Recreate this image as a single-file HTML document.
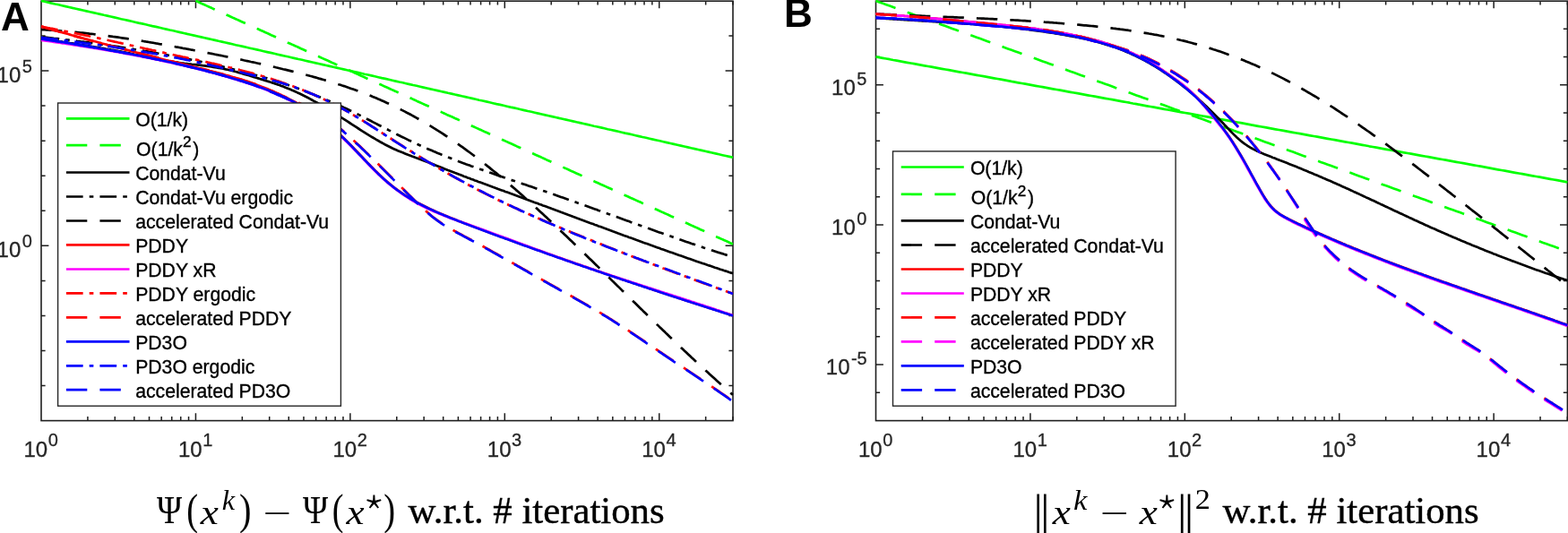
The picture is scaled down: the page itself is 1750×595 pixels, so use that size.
<!DOCTYPE html>
<html><head><meta charset="utf-8"><title>Convergence plots</title>
<style>
html,body{margin:0;padding:0;background:#fff;}
body{width:1750px;height:595px;overflow:hidden;}
svg{display:block;}
text{font-family:"Liberation Sans",Arial,Helvetica,sans-serif;fill:#262626;}
.t{font-size:24px;stroke:#262626;stroke-width:0.3px;}
.e{font-size:20px;}
.l{font-size:21.2px;fill:#000;stroke:#000;stroke-width:0.35px;}
.ls{font-size:17.2px;}
.p{font-size:44px;font-weight:bold;fill:#000;}
.gr,.gi,.gd{font-size:100px;fill:#000;}
.gr{font-family:"Liberation Serif","Times New Roman",serif;}
.gi{font-family:"Liberation Serif","Times New Roman",serif;font-style:italic;}
.gd{font-family:"DejaVu Math TeX Gyre","DejaVu Sans",sans-serif;}
.x{font-family:"Liberation Serif","Times New Roman",serif;font-size:42.8px;fill:#000;stroke:#000;stroke-width:0.4px;}
.i{font-style:italic;}
.s{font-size:29px;}
</style></head>
<body>
<svg width="1750" height="595" viewBox="0 0 1750 595">
<defs>
<clipPath id="c1"><rect x="45.3" y="-0.050000000000000044" width="773.4" height="470.35"/></clipPath>
<clipPath id="c2"><rect x="976.8" y="-0.050000000000000044" width="773.3000000000001" height="470.35"/></clipPath>
</defs>
<rect width="1750" height="595" fill="#fff"/>
<path d="M97.91,469.6v-4.6M97.91,0.95v4.6M128.27,469.6v-4.6M128.27,0.95v4.6M149.81,469.6v-4.6M149.81,0.95v4.6M166.52,469.6v-4.6M166.52,0.95v4.6M180.18,469.6v-4.6M180.18,0.95v4.6M191.72,469.6v-4.6M191.72,0.95v4.6M201.72,469.6v-4.6M201.72,0.95v4.6M210.54,469.6v-4.6M210.54,0.95v4.6M218.43,469.6v-8.4M218.43,0.95v8.4M270.34,469.6v-4.6M270.34,0.95v4.6M300.70,469.6v-4.6M300.70,0.95v4.6M322.25,469.6v-4.6M322.25,0.95v4.6M338.96,469.6v-4.6M338.96,0.95v4.6M352.61,469.6v-4.6M352.61,0.95v4.6M364.15,469.6v-4.6M364.15,0.95v4.6M374.15,469.6v-4.6M374.15,0.95v4.6M382.97,469.6v-4.6M382.97,0.95v4.6M390.86,469.6v-8.4M390.86,0.95v8.4M442.77,469.6v-4.6M442.77,0.95v4.6M473.14,469.6v-4.6M473.14,0.95v4.6M494.68,469.6v-4.6M494.68,0.95v4.6M511.39,469.6v-4.6M511.39,0.95v4.6M525.04,469.6v-4.6M525.04,0.95v4.6M536.59,469.6v-4.6M536.59,0.95v4.6M546.59,469.6v-4.6M546.59,0.95v4.6M555.41,469.6v-4.6M555.41,0.95v4.6M563.30,469.6v-8.4M563.30,0.95v8.4M615.20,469.6v-4.6M615.20,0.95v4.6M645.57,469.6v-4.6M645.57,0.95v4.6M667.11,469.6v-4.6M667.11,0.95v4.6M683.82,469.6v-4.6M683.82,0.95v4.6M697.48,469.6v-4.6M697.48,0.95v4.6M709.02,469.6v-4.6M709.02,0.95v4.6M719.02,469.6v-4.6M719.02,0.95v4.6M727.84,469.6v-4.6M727.84,0.95v4.6M735.73,469.6v-8.4M735.73,0.95v8.4M787.64,469.6v-4.6M787.64,0.95v4.6M818.00,469.6v-4.6M818.00,0.95v4.6M46.0,430.55h4.6M818.0,430.55h-4.6M46.0,391.49h4.6M818.0,391.49h-4.6M46.0,352.44h4.6M818.0,352.44h-4.6M46.0,313.38h4.6M818.0,313.38h-4.6M46.0,274.33h8.4M818.0,274.33h-8.4M46.0,235.27h4.6M818.0,235.27h-4.6M46.0,196.22h4.6M818.0,196.22h-4.6M46.0,157.17h4.6M818.0,157.17h-4.6M46.0,118.11h4.6M818.0,118.11h-4.6M46.0,79.06h8.4M818.0,79.06h-8.4M46.0,40.00h4.6M818.0,40.00h-4.6" stroke="#1e1e1e" stroke-width="1.5" fill="none"/>
<rect x="46.0" y="1.2" width="772.0" height="468.40000000000003" fill="none" stroke="#1e1e1e" stroke-width="1.6"/>
<g clip-path="url(#c1)">
<path d="M46.0,0.9 L49.9,1.8 L53.8,2.7 L57.6,3.6 L61.5,4.5 L65.4,5.3 L69.3,6.2 L73.2,7.1 L77.0,8.0 L80.9,8.9 L84.8,9.7 L88.7,10.6 L92.6,11.5 L96.4,12.4 L100.3,13.3 L104.2,14.1 L108.1,15.0 L111.9,15.9 L115.8,16.8 L119.7,17.6 L123.6,18.5 L127.5,19.4 L131.3,20.3 L135.2,21.2 L139.1,22.0 L143.0,22.9 L146.9,23.8 L150.7,24.7 L154.6,25.6 L158.5,26.4 L162.4,27.3 L166.3,28.2 L170.1,29.1 L174.0,29.9 L177.9,30.8 L181.8,31.7 L185.7,32.6 L189.5,33.5 L193.4,34.3 L197.3,35.2 L201.2,36.1 L205.1,37.0 L208.9,37.9 L212.8,38.7 L216.7,39.6 L220.6,40.5 L224.5,41.4 L228.3,42.2 L232.2,43.1 L236.1,44.0 L240.0,44.9 L243.8,45.8 L247.7,46.6 L251.6,47.5 L255.5,48.4 L259.4,49.3 L263.2,50.2 L267.1,51.0 L271.0,51.9 L274.9,52.8 L278.8,53.7 L282.6,54.5 L286.5,55.4 L290.4,56.3 L294.3,57.2 L298.2,58.1 L302.0,58.9 L305.9,59.8 L309.8,60.7 L313.7,61.6 L317.6,62.5 L321.4,63.3 L325.3,64.2 L329.2,65.1 L333.1,66.0 L337.0,66.8 L340.8,67.7 L344.7,68.6 L348.6,69.5 L352.5,70.4 L356.4,71.2 L360.2,72.1 L364.1,73.0 L368.0,73.9 L371.9,74.8 L375.7,75.6 L379.6,76.5 L383.5,77.4 L387.4,78.3 L391.3,79.1 L395.1,80.0 L399.0,80.9 L402.9,81.8 L406.8,82.7 L410.7,83.5 L414.5,84.4 L418.4,85.3 L422.3,86.2 L426.2,87.1 L430.1,87.9 L433.9,88.8 L437.8,89.7 L441.7,90.6 L445.6,91.5 L449.5,92.3 L453.3,93.2 L457.2,94.1 L461.1,95.0 L465.0,95.8 L468.9,96.7 L472.7,97.6 L476.6,98.5 L480.5,99.4 L484.4,100.2 L488.3,101.1 L492.1,102.0 L496.0,102.9 L499.9,103.8 L503.8,104.6 L507.6,105.5 L511.5,106.4 L515.4,107.3 L519.3,108.1 L523.2,109.0 L527.0,109.9 L530.9,110.8 L534.8,111.7 L538.7,112.5 L542.6,113.4 L546.4,114.3 L550.3,115.2 L554.2,116.1 L558.1,116.9 L562.0,117.8 L565.8,118.7 L569.7,119.6 L573.6,120.4 L577.5,121.3 L581.4,122.2 L585.2,123.1 L589.1,124.0 L593.0,124.8 L596.9,125.7 L600.8,126.6 L604.6,127.5 L608.5,128.4 L612.4,129.2 L616.3,130.1 L620.2,131.0 L624.0,131.9 L627.9,132.7 L631.8,133.6 L635.7,134.5 L639.5,135.4 L643.4,136.3 L647.3,137.1 L651.2,138.0 L655.1,138.9 L658.9,139.8 L662.8,140.7 L666.7,141.5 L670.6,142.4 L674.5,143.3 L678.3,144.2 L682.2,145.0 L686.1,145.9 L690.0,146.8 L693.9,147.7 L697.7,148.6 L701.6,149.4 L705.5,150.3 L709.4,151.2 L713.3,152.1 L717.1,153.0 L721.0,153.8 L724.9,154.7 L728.8,155.6 L732.7,156.5 L736.5,157.3 L740.4,158.2 L744.3,159.1 L748.2,160.0 L752.1,160.9 L755.9,161.7 L759.8,162.6 L763.7,163.5 L767.6,164.4 L771.4,165.3 L775.3,166.1 L779.2,167.0 L783.1,167.9 L787.0,168.8 L790.8,169.6 L794.7,170.5 L798.6,171.4 L802.5,172.3 L806.4,173.2 L810.2,174.0 L814.1,174.9 L818.0,175.8" fill="none" stroke="#00ff00" stroke-width="2.7" stroke-linejoin="round"/>
<path d="M218.4,0.9 L221.4,2.3 L224.5,3.7 L227.5,5.0 L230.5,6.4 L233.5,7.8 L236.5,9.1 L239.5,10.5 L242.5,11.9 L245.5,13.2 L248.6,14.6 L251.6,16.0 L254.6,17.3 L257.6,18.7 L260.6,20.1 L263.6,21.4 L266.6,22.8 L269.7,24.2 L272.7,25.5 L275.7,26.9 L278.7,28.2 L281.7,29.6 L284.7,31.0 L287.7,32.3 L290.7,33.7 L293.8,35.1 L296.8,36.4 L299.8,37.8 L302.8,39.2 L305.8,40.5 L308.8,41.9 L311.8,43.3 L314.8,44.6 L317.9,46.0 L320.9,47.4 L323.9,48.7 L326.9,50.1 L329.9,51.4 L332.9,52.8 L335.9,54.2 L338.9,55.5 L342.0,56.9 L345.0,58.3 L348.0,59.6 L351.0,61.0 L354.0,62.4 L357.0,63.7 L360.0,65.1 L363.1,66.5 L366.1,67.8 L369.1,69.2 L372.1,70.6 L375.1,71.9 L378.1,73.3 L381.1,74.6 L384.1,76.0 L387.2,77.4 L390.2,78.7 L393.2,80.1 L396.2,81.5 L399.2,82.8 L402.2,84.2 L405.2,85.6 L408.2,86.9 L411.3,88.3 L414.3,89.7 L417.3,91.0 L420.3,92.4 L423.3,93.8 L426.3,95.1 L429.3,96.5 L432.3,97.8 L435.4,99.2 L438.4,100.6 L441.4,101.9 L444.4,103.3 L447.4,104.7 L450.4,106.0 L453.4,107.4 L456.5,108.8 L459.5,110.1 L462.5,111.5 L465.5,112.9 L468.5,114.2 L471.5,115.6 L474.5,117.0 L477.5,118.3 L480.6,119.7 L483.6,121.1 L486.6,122.4 L489.6,123.8 L492.6,125.1 L495.6,126.5 L498.6,127.9 L501.6,129.2 L504.7,130.6 L507.7,132.0 L510.7,133.3 L513.7,134.7 L516.7,136.1 L519.7,137.4 L522.7,138.8 L525.7,140.2 L528.8,141.5 L531.8,142.9 L534.8,144.3 L537.8,145.6 L540.8,147.0 L543.8,148.3 L546.8,149.7 L549.9,151.1 L552.9,152.4 L555.9,153.8 L558.9,155.2 L561.9,156.5 L564.9,157.9 L567.9,159.3 L570.9,160.6 L574.0,162.0 L577.0,163.4 L580.0,164.7 L583.0,166.1 L586.0,167.5 L589.0,168.8 L592.0,170.2 L595.0,171.5 L598.1,172.9 L601.1,174.3 L604.1,175.6 L607.1,177.0 L610.1,178.4 L613.1,179.7 L616.1,181.1 L619.1,182.5 L622.2,183.8 L625.2,185.2 L628.2,186.6 L631.2,187.9 L634.2,189.3 L637.2,190.7 L640.2,192.0 L643.3,193.4 L646.3,194.7 L649.3,196.1 L652.3,197.5 L655.3,198.8 L658.3,200.2 L661.3,201.6 L664.3,202.9 L667.4,204.3 L670.4,205.7 L673.4,207.0 L676.4,208.4 L679.4,209.8 L682.4,211.1 L685.4,212.5 L688.4,213.9 L691.5,215.2 L694.5,216.6 L697.5,218.0 L700.5,219.3 L703.5,220.7 L706.5,222.0 L709.5,223.4 L712.5,224.8 L715.6,226.1 L718.6,227.5 L721.6,228.9 L724.6,230.2 L727.6,231.6 L730.6,233.0 L733.6,234.3 L736.7,235.7 L739.7,237.1 L742.7,238.4 L745.7,239.8 L748.7,241.2 L751.7,242.5 L754.7,243.9 L757.7,245.2 L760.8,246.6 L763.8,248.0 L766.8,249.3 L769.8,250.7 L772.8,252.1 L775.8,253.4 L778.8,254.8 L781.8,256.2 L784.9,257.5 L787.9,258.9 L790.9,260.3 L793.9,261.6 L796.9,263.0 L799.9,264.4 L802.9,265.7 L805.9,267.1 L809.0,268.4 L812.0,269.8 L815.0,271.2 L818.0,272.5" fill="none" stroke="#00ff00" stroke-width="2.7" stroke-linejoin="round" stroke-dasharray="23.4 14.1"/>
<path d="M46.0,42.4 L48.0,42.8 L50.0,43.2 L52.0,43.6 L54.0,43.9 L56.0,44.3 L58.0,44.7 L60.0,45.0 L62.0,45.4 L64.0,45.7 L66.0,46.1 L68.0,46.4 L70.0,46.8 L72.0,47.1 L74.0,47.4 L76.0,47.7 L78.0,48.1 L80.0,48.4 L82.0,48.7 L84.0,49.0 L86.0,49.3 L88.0,49.6 L90.0,50.0 L92.0,50.3 L94.0,50.6 L96.0,50.9 L98.0,51.2 L100.0,51.5 L102.0,51.8 L104.0,52.2 L106.0,52.5 L108.0,52.8 L110.0,53.1 L112.0,53.5 L114.0,53.8 L116.0,54.1 L118.0,54.5 L120.0,54.8 L122.0,55.2 L124.0,55.6 L126.0,55.9 L128.0,56.3 L130.0,56.7 L132.0,57.0 L134.0,57.4 L136.0,57.8 L138.0,58.2 L140.0,58.6 L142.0,59.0 L144.0,59.4 L146.0,59.8 L148.0,60.2 L150.0,60.7 L152.0,61.1 L154.0,61.5 L156.0,61.9 L158.0,62.3 L160.0,62.7 L162.0,63.1 L164.0,63.5 L166.0,64.0 L168.0,64.4 L170.0,64.8 L172.0,65.2 L174.0,65.5 L176.0,65.9 L178.0,66.3 L180.0,66.7 L182.0,67.1 L184.0,67.4 L186.0,67.8 L188.0,68.1 L190.0,68.5 L192.0,68.8 L194.0,69.1 L196.0,69.4 L198.0,69.7 L200.0,70.0 L202.0,70.3 L204.0,70.5 L206.0,70.8 L208.0,71.0 L210.0,71.3 L212.0,71.5 L214.0,71.8 L216.0,72.0 L218.0,72.2 L220.0,72.5 L222.0,72.7 L224.0,72.9 L226.0,73.2 L228.0,73.4 L230.0,73.7 L232.0,74.0 L234.0,74.2 L236.0,74.5 L238.0,74.8 L240.0,75.1 L242.0,75.5 L244.0,75.8 L246.0,76.2 L248.0,76.5 L250.0,76.9 L252.0,77.4 L254.0,77.8 L256.0,78.3 L258.0,78.8 L260.0,79.3 L262.0,79.8 L264.0,80.3 L266.0,80.9 L268.0,81.4 L270.0,82.0 L272.0,82.6 L274.0,83.1 L276.0,83.7 L278.0,84.3 L280.0,84.9 L282.0,85.6 L284.0,86.2 L286.0,86.8 L288.0,87.4 L290.0,88.0 L292.0,88.6 L294.0,89.2 L296.0,89.9 L298.0,90.5 L300.0,91.1 L302.0,91.8 L304.0,92.4 L306.0,93.1 L308.0,93.7 L310.0,94.4 L312.0,95.1 L314.0,95.9 L316.0,96.6 L318.0,97.4 L320.0,98.2 L322.0,99.0 L324.0,99.8 L326.0,100.7 L328.0,101.5 L330.0,102.4 L332.0,103.4 L334.0,104.3 L336.0,105.3 L338.0,106.3 L340.0,107.3 L342.0,108.3 L344.0,109.3 L346.0,110.4 L348.0,111.5 L350.0,112.6 L352.0,113.7 L354.0,114.8 L356.0,115.9 L358.0,117.1 L360.0,118.3 L362.0,119.4 L364.0,120.6 L366.0,121.8 L368.0,123.1 L370.0,124.3 L372.0,125.5 L374.0,126.8 L376.0,128.0 L378.0,129.3 L380.0,130.6 L382.0,131.9 L384.0,133.1 L386.0,134.4 L388.0,135.7 L390.0,137.0 L392.0,138.3 L394.0,139.6 L396.0,140.9 L398.0,142.2 L400.0,143.5 L402.0,144.8 L404.0,146.1 L406.0,147.3 L408.0,148.6 L410.0,149.9 L412.0,151.1 L414.0,152.3 L416.0,153.5 L418.0,154.7 L420.0,155.9 L422.0,157.0 L424.0,158.2 L426.0,159.3 L428.0,160.4 L430.0,161.5 L432.0,162.5 L434.0,163.5 L436.0,164.5 L438.0,165.5 L440.0,166.4 L442.0,167.3 L444.0,168.2 L446.0,169.0 L448.0,169.8 L450.0,170.6 L452.0,171.4 L454.0,172.2 L456.0,173.0 L458.0,173.7 L460.0,174.5 L462.0,175.2 L464.0,176.0 L466.0,176.7 L468.0,177.4 L470.0,178.2 L472.0,178.9 L474.0,179.7 L476.0,180.5 L478.0,181.3 L480.0,182.0 L482.0,182.8 L484.0,183.6 L486.0,184.4 L488.0,185.2 L490.0,186.0 L492.0,186.8 L494.0,187.6 L496.0,188.4 L498.0,189.2 L500.0,190.0 L502.0,190.7 L504.0,191.5 L506.0,192.3 L508.0,193.1 L510.0,193.8 L512.0,194.6 L514.0,195.3 L516.0,196.1 L518.0,196.9 L520.0,197.6 L522.0,198.4 L524.0,199.1 L526.0,199.9 L528.0,200.6 L530.0,201.4 L532.0,202.1 L534.0,202.9 L536.0,203.6 L538.0,204.3 L540.0,205.1 L542.0,205.8 L544.0,206.5 L546.0,207.3 L548.0,208.0 L550.0,208.8 L552.0,209.5 L554.0,210.2 L556.0,211.0 L558.0,211.7 L560.0,212.4 L562.0,213.1 L564.0,213.9 L566.0,214.6 L568.0,215.3 L570.0,216.1 L572.0,216.8 L574.0,217.5 L576.0,218.3 L578.0,219.0 L580.0,219.8 L582.0,220.5 L584.0,221.2 L586.0,222.0 L588.0,222.7 L590.0,223.4 L592.0,224.2 L594.0,224.9 L596.0,225.7 L598.0,226.4 L600.0,227.1 L602.0,227.9 L604.0,228.6 L606.0,229.4 L608.0,230.1 L610.0,230.8 L612.0,231.6 L614.0,232.3 L616.0,233.1 L618.0,233.8 L620.0,234.6 L622.0,235.3 L624.0,236.0 L626.0,236.8 L628.0,237.5 L630.0,238.3 L632.0,239.0 L634.0,239.8 L636.0,240.5 L638.0,241.2 L640.0,242.0 L642.0,242.7 L644.0,243.5 L646.0,244.2 L648.0,245.0 L650.0,245.7 L652.0,246.4 L654.0,247.2 L656.0,247.9 L658.0,248.7 L660.0,249.4 L662.0,250.1 L664.0,250.9 L666.0,251.6 L668.0,252.4 L670.0,253.1 L672.0,253.8 L674.0,254.6 L676.0,255.3 L678.0,256.1 L680.0,256.8 L682.0,257.5 L684.0,258.3 L686.0,259.0 L688.0,259.7 L690.0,260.5 L692.0,261.2 L694.0,261.9 L696.0,262.7 L698.0,263.4 L700.0,264.1 L702.0,264.9 L704.0,265.6 L706.0,266.3 L708.0,267.0 L710.0,267.8 L712.0,268.5 L714.0,269.2 L716.0,269.9 L718.0,270.7 L720.0,271.4 L722.0,272.1 L724.0,272.8 L726.0,273.6 L728.0,274.3 L730.0,275.0 L732.0,275.7 L734.0,276.4 L736.0,277.1 L738.0,277.9 L740.0,278.6 L742.0,279.3 L744.0,280.0 L746.0,280.7 L748.0,281.4 L750.0,282.1 L752.0,282.8 L754.0,283.5 L756.0,284.2 L758.0,284.9 L760.0,285.6 L762.0,286.3 L764.0,287.0 L766.0,287.7 L768.0,288.4 L770.0,289.1 L772.0,289.8 L774.0,290.5 L776.0,291.2 L778.0,291.9 L780.0,292.6 L782.0,293.2 L784.0,293.9 L786.0,294.6 L788.0,295.3 L790.0,296.0 L792.0,296.6 L794.0,297.3 L796.0,298.0 L798.0,298.7 L800.0,299.3 L802.0,300.0 L804.0,300.7 L806.0,301.3 L808.0,302.0 L810.0,302.6 L812.0,303.3 L814.0,304.0 L816.0,304.6 L818.0,305.3" fill="none" stroke="#000000" stroke-width="2.7" stroke-linejoin="round"/>
<path d="M46.0,41.2 L48.0,41.5 L50.0,41.7 L52.0,41.9 L54.0,42.1 L56.0,42.3 L58.0,42.5 L60.0,42.8 L62.0,43.0 L64.0,43.2 L66.0,43.4 L68.0,43.7 L70.0,43.9 L72.0,44.1 L74.0,44.4 L76.0,44.6 L78.0,44.9 L80.0,45.1 L82.0,45.4 L84.0,45.6 L86.0,45.9 L88.0,46.1 L90.0,46.4 L92.0,46.6 L94.0,46.9 L96.0,47.1 L98.0,47.4 L100.0,47.7 L102.0,47.9 L104.0,48.2 L106.0,48.5 L108.0,48.7 L110.0,49.0 L112.0,49.3 L114.0,49.6 L116.0,49.9 L118.0,50.2 L120.0,50.4 L122.0,50.7 L124.0,51.0 L126.0,51.3 L128.0,51.6 L130.0,51.9 L132.0,52.2 L134.0,52.5 L136.0,52.8 L138.0,53.1 L140.0,53.5 L142.0,53.8 L144.0,54.1 L146.0,54.4 L148.0,54.7 L150.0,55.1 L152.0,55.4 L154.0,55.7 L156.0,56.0 L158.0,56.4 L160.0,56.7 L162.0,57.1 L164.0,57.4 L166.0,57.7 L168.0,58.1 L170.0,58.4 L172.0,58.8 L174.0,59.2 L176.0,59.5 L178.0,59.9 L180.0,60.2 L182.0,60.6 L184.0,61.0 L186.0,61.3 L188.0,61.7 L190.0,62.1 L192.0,62.5 L194.0,62.9 L196.0,63.2 L198.0,63.6 L200.0,64.0 L202.0,64.4 L204.0,64.8 L206.0,65.2 L208.0,65.6 L210.0,66.0 L212.0,66.4 L214.0,66.8 L216.0,67.3 L218.0,67.7 L220.0,68.1 L222.0,68.5 L224.0,68.9 L226.0,69.4 L228.0,69.8 L230.0,70.2 L232.0,70.7 L234.0,71.1 L236.0,71.6 L238.0,72.0 L240.0,72.5 L242.0,72.9 L244.0,73.4 L246.0,73.9 L248.0,74.3 L250.0,74.8 L252.0,75.3 L254.0,75.8 L256.0,76.3 L258.0,76.7 L260.0,77.2 L262.0,77.7 L264.0,78.2 L266.0,78.7 L268.0,79.2 L270.0,79.8 L272.0,80.3 L274.0,80.8 L276.0,81.3 L278.0,81.8 L280.0,82.4 L282.0,82.9 L284.0,83.5 L286.0,84.0 L288.0,84.6 L290.0,85.1 L292.0,85.7 L294.0,86.3 L296.0,86.9 L298.0,87.4 L300.0,88.0 L302.0,88.6 L304.0,89.2 L306.0,89.9 L308.0,90.5 L310.0,91.1 L312.0,91.8 L314.0,92.4 L316.0,93.1 L318.0,93.7 L320.0,94.4 L322.0,95.1 L324.0,95.8 L326.0,96.5 L328.0,97.2 L330.0,97.9 L332.0,98.6 L334.0,99.3 L336.0,100.1 L338.0,100.9 L340.0,101.6 L342.0,102.4 L344.0,103.2 L346.0,104.0 L348.0,104.8 L350.0,105.6 L352.0,106.4 L354.0,107.2 L356.0,108.0 L358.0,108.8 L360.0,109.6 L362.0,110.5 L364.0,111.3 L366.0,112.2 L368.0,113.0 L370.0,113.9 L372.0,114.7 L374.0,115.6 L376.0,116.5 L378.0,117.4 L380.0,118.3 L382.0,119.2 L384.0,120.2 L386.0,121.1 L388.0,122.0 L390.0,123.0 L392.0,124.0 L394.0,124.9 L396.0,125.9 L398.0,126.9 L400.0,127.9 L402.0,128.9 L404.0,129.9 L406.0,130.9 L408.0,132.0 L410.0,133.0 L412.0,134.0 L414.0,135.0 L416.0,136.1 L418.0,137.1 L420.0,138.1 L422.0,139.2 L424.0,140.2 L426.0,141.2 L428.0,142.3 L430.0,143.3 L432.0,144.3 L434.0,145.4 L436.0,146.4 L438.0,147.4 L440.0,148.4 L442.0,149.4 L444.0,150.5 L446.0,151.5 L448.0,152.5 L450.0,153.4 L452.0,154.4 L454.0,155.4 L456.0,156.4 L458.0,157.3 L460.0,158.3 L462.0,159.2 L464.0,160.2 L466.0,161.1 L468.0,162.0 L470.0,162.9 L472.0,163.8 L474.0,164.7 L476.0,165.6 L478.0,166.4 L480.0,167.3 L482.0,168.1 L484.0,169.0 L486.0,169.8 L488.0,170.7 L490.0,171.5 L492.0,172.3 L494.0,173.1 L496.0,173.9 L498.0,174.7 L500.0,175.5 L502.0,176.3 L504.0,177.1 L506.0,177.9 L508.0,178.6 L510.0,179.4 L512.0,180.2 L514.0,180.9 L516.0,181.7 L518.0,182.4 L520.0,183.2 L522.0,183.9 L524.0,184.6 L526.0,185.4 L528.0,186.1 L530.0,186.8 L532.0,187.5 L534.0,188.2 L536.0,188.9 L538.0,189.6 L540.0,190.3 L542.0,191.1 L544.0,191.7 L546.0,192.4 L548.0,193.1 L550.0,193.8 L552.0,194.5 L554.0,195.2 L556.0,195.9 L558.0,196.6 L560.0,197.3 L562.0,197.9 L564.0,198.6 L566.0,199.3 L568.0,200.0 L570.0,200.7 L572.0,201.4 L574.0,202.0 L576.0,202.7 L578.0,203.4 L580.0,204.1 L582.0,204.7 L584.0,205.4 L586.0,206.1 L588.0,206.8 L590.0,207.5 L592.0,208.1 L594.0,208.8 L596.0,209.5 L598.0,210.2 L600.0,210.9 L602.0,211.5 L604.0,212.2 L606.0,212.9 L608.0,213.6 L610.0,214.3 L612.0,215.0 L614.0,215.7 L616.0,216.4 L618.0,217.1 L620.0,217.8 L622.0,218.5 L624.0,219.2 L626.0,219.9 L628.0,220.6 L630.0,221.3 L632.0,222.0 L634.0,222.7 L636.0,223.4 L638.0,224.1 L640.0,224.8 L642.0,225.5 L644.0,226.3 L646.0,227.0 L648.0,227.7 L650.0,228.4 L652.0,229.1 L654.0,229.8 L656.0,230.5 L658.0,231.3 L660.0,232.0 L662.0,232.7 L664.0,233.4 L666.0,234.1 L668.0,234.9 L670.0,235.6 L672.0,236.3 L674.0,237.0 L676.0,237.7 L678.0,238.5 L680.0,239.2 L682.0,239.9 L684.0,240.6 L686.0,241.4 L688.0,242.1 L690.0,242.8 L692.0,243.5 L694.0,244.2 L696.0,245.0 L698.0,245.7 L700.0,246.4 L702.0,247.1 L704.0,247.9 L706.0,248.6 L708.0,249.3 L710.0,250.0 L712.0,250.8 L714.0,251.5 L716.0,252.2 L718.0,252.9 L720.0,253.6 L722.0,254.4 L724.0,255.1 L726.0,255.8 L728.0,256.5 L730.0,257.2 L732.0,257.9 L734.0,258.7 L736.0,259.4 L738.0,260.1 L740.0,260.8 L742.0,261.5 L744.0,262.2 L746.0,262.9 L748.0,263.6 L750.0,264.3 L752.0,265.0 L754.0,265.7 L756.0,266.4 L758.0,267.1 L760.0,267.8 L762.0,268.5 L764.0,269.2 L766.0,269.9 L768.0,270.6 L770.0,271.3 L772.0,272.0 L774.0,272.6 L776.0,273.3 L778.0,274.0 L780.0,274.7 L782.0,275.3 L784.0,276.0 L786.0,276.7 L788.0,277.3 L790.0,278.0 L792.0,278.6 L794.0,279.3 L796.0,279.9 L798.0,280.6 L800.0,281.2 L802.0,281.9 L804.0,282.5 L806.0,283.1 L808.0,283.8 L810.0,284.4 L812.0,285.0 L814.0,285.7 L816.0,286.3 L818.0,286.9" fill="none" stroke="#000000" stroke-width="2.7" stroke-linejoin="round" stroke-dasharray="18.75 7.05 4.65 7.05" stroke-dashoffset="-1.50"/>
<path d="M46.0,33.0 L48.0,33.1 L50.0,33.2 L52.0,33.3 L54.0,33.5 L56.0,33.6 L58.0,33.7 L60.0,33.9 L62.0,34.0 L64.0,34.2 L66.0,34.3 L68.0,34.5 L70.0,34.6 L72.0,34.8 L74.0,35.0 L76.0,35.1 L78.0,35.3 L80.0,35.5 L82.0,35.7 L84.0,35.9 L86.0,36.1 L88.0,36.3 L90.0,36.5 L92.0,36.7 L94.0,36.9 L96.0,37.1 L98.0,37.3 L100.0,37.6 L102.0,37.8 L104.0,38.0 L106.0,38.3 L108.0,38.5 L110.0,38.8 L112.0,39.0 L114.0,39.3 L116.0,39.5 L118.0,39.8 L120.0,40.0 L122.0,40.3 L124.0,40.6 L126.0,40.9 L128.0,41.1 L130.0,41.4 L132.0,41.7 L134.0,42.0 L136.0,42.3 L138.0,42.6 L140.0,42.9 L142.0,43.2 L144.0,43.5 L146.0,43.8 L148.0,44.1 L150.0,44.4 L152.0,44.7 L154.0,45.0 L156.0,45.4 L158.0,45.7 L160.0,46.0 L162.0,46.3 L164.0,46.7 L166.0,47.0 L168.0,47.3 L170.0,47.7 L172.0,48.0 L174.0,48.4 L176.0,48.7 L178.0,49.1 L180.0,49.4 L182.0,49.8 L184.0,50.1 L186.0,50.5 L188.0,50.8 L190.0,51.2 L192.0,51.5 L194.0,51.9 L196.0,52.3 L198.0,52.6 L200.0,53.0 L202.0,53.4 L204.0,53.8 L206.0,54.1 L208.0,54.5 L210.0,54.9 L212.0,55.3 L214.0,55.7 L216.0,56.0 L218.0,56.4 L220.0,56.8 L222.0,57.2 L224.0,57.6 L226.0,58.0 L228.0,58.4 L230.0,58.7 L232.0,59.1 L234.0,59.5 L236.0,59.9 L238.0,60.3 L240.0,60.7 L242.0,61.1 L244.0,61.5 L246.0,61.9 L248.0,62.3 L250.0,62.7 L252.0,63.1 L254.0,63.5 L256.0,63.9 L258.0,64.3 L260.0,64.7 L262.0,65.2 L264.0,65.6 L266.0,66.0 L268.0,66.4 L270.0,66.8 L272.0,67.3 L274.0,67.7 L276.0,68.1 L278.0,68.5 L280.0,69.0 L282.0,69.4 L284.0,69.8 L286.0,70.3 L288.0,70.7 L290.0,71.1 L292.0,71.6 L294.0,72.0 L296.0,72.5 L298.0,72.9 L300.0,73.4 L302.0,73.9 L304.0,74.3 L306.0,74.8 L308.0,75.3 L310.0,75.7 L312.0,76.2 L314.0,76.7 L316.0,77.2 L318.0,77.6 L320.0,78.1 L322.0,78.6 L324.0,79.1 L326.0,79.6 L328.0,80.1 L330.0,80.6 L332.0,81.1 L334.0,81.6 L336.0,82.1 L338.0,82.7 L340.0,83.2 L342.0,83.7 L344.0,84.2 L346.0,84.8 L348.0,85.3 L350.0,85.9 L352.0,86.4 L354.0,87.0 L356.0,87.6 L358.0,88.1 L360.0,88.7 L362.0,89.3 L364.0,89.9 L366.0,90.5 L368.0,91.1 L370.0,91.7 L372.0,92.3 L374.0,92.9 L376.0,93.5 L378.0,94.2 L380.0,94.8 L382.0,95.5 L384.0,96.1 L386.0,96.8 L388.0,97.5 L390.0,98.2 L392.0,98.9 L394.0,99.6 L396.0,100.3 L398.0,101.0 L400.0,101.7 L402.0,102.5 L404.0,103.2 L406.0,104.0 L408.0,104.8 L410.0,105.5 L412.0,106.3 L414.0,107.1 L416.0,108.0 L418.0,108.8 L420.0,109.6 L422.0,110.5 L424.0,111.3 L426.0,112.2 L428.0,113.1 L430.0,114.0 L432.0,114.9 L434.0,115.8 L436.0,116.7 L438.0,117.7 L440.0,118.6 L442.0,119.6 L444.0,120.6 L446.0,121.6 L448.0,122.6 L450.0,123.6 L452.0,124.6 L454.0,125.7 L456.0,126.7 L458.0,127.8 L460.0,128.9 L462.0,130.0 L464.0,131.1 L466.0,132.2 L468.0,133.3 L470.0,134.5 L472.0,135.6 L474.0,136.8 L476.0,138.0 L478.0,139.2 L480.0,140.4 L482.0,141.6 L484.0,142.9 L486.0,144.1 L488.0,145.4 L490.0,146.6 L492.0,147.9 L494.0,149.2 L496.0,150.5 L498.0,151.8 L500.0,153.2 L502.0,154.5 L504.0,155.9 L506.0,157.2 L508.0,158.6 L510.0,160.0 L512.0,161.4 L514.0,162.8 L516.0,164.2 L518.0,165.7 L520.0,167.1 L522.0,168.6 L524.0,170.0 L526.0,171.5 L528.0,173.0 L530.0,174.5 L532.0,176.0 L534.0,177.6 L536.0,179.1 L538.0,180.6 L540.0,182.2 L542.0,183.8 L544.0,185.4 L546.0,186.9 L548.0,188.6 L550.0,190.2 L552.0,191.8 L554.0,193.4 L556.0,195.1 L558.0,196.7 L560.0,198.4 L562.0,200.1 L564.0,201.8 L566.0,203.5 L568.0,205.2 L570.0,206.9 L572.0,208.6 L574.0,210.3 L576.0,212.1 L578.0,213.8 L580.0,215.6 L582.0,217.3 L584.0,219.1 L586.0,220.9 L588.0,222.7 L590.0,224.5 L592.0,226.3 L594.0,228.1 L596.0,229.9 L598.0,231.7 L600.0,233.6 L602.0,235.4 L604.0,237.2 L606.0,239.1 L608.0,240.9 L610.0,242.8 L612.0,244.7 L614.0,246.5 L616.0,248.4 L618.0,250.3 L620.0,252.2 L622.0,254.1 L624.0,256.0 L626.0,257.9 L628.0,259.8 L630.0,261.7 L632.0,263.6 L634.0,265.5 L636.0,267.4 L638.0,269.3 L640.0,271.2 L642.0,273.2 L644.0,275.1 L646.0,277.0 L648.0,279.0 L650.0,280.9 L652.0,282.8 L654.0,284.8 L656.0,286.7 L658.0,288.7 L660.0,290.6 L662.0,292.5 L664.0,294.5 L666.0,296.4 L668.0,298.4 L670.0,300.4 L672.0,302.3 L674.0,304.3 L676.0,306.2 L678.0,308.2 L680.0,310.1 L682.0,312.1 L684.0,314.1 L686.0,316.0 L688.0,318.0 L690.0,319.9 L692.0,321.9 L694.0,323.9 L696.0,325.8 L698.0,327.8 L700.0,329.7 L702.0,331.7 L704.0,333.7 L706.0,335.6 L708.0,337.6 L710.0,339.5 L712.0,341.5 L714.0,343.5 L716.0,345.4 L718.0,347.4 L720.0,349.3 L722.0,351.3 L724.0,353.2 L726.0,355.2 L728.0,357.1 L730.0,359.0 L732.0,361.0 L734.0,362.9 L736.0,364.9 L738.0,366.8 L740.0,368.7 L742.0,370.6 L744.0,372.6 L746.0,374.5 L748.0,376.4 L750.0,378.3 L752.0,380.2 L754.0,382.2 L756.0,384.1 L758.0,386.0 L760.0,387.9 L762.0,389.8 L764.0,391.7 L766.0,393.5 L768.0,395.4 L770.0,397.3 L772.0,399.2 L774.0,401.0 L776.0,402.9 L778.0,404.8 L780.0,406.6 L782.0,408.5 L784.0,410.3 L786.0,412.2 L788.0,414.0 L790.0,415.8 L792.0,417.7 L794.0,419.5 L796.0,421.3 L798.0,423.1 L800.0,424.9 L802.0,426.7 L804.0,428.5 L806.0,430.3 L808.0,432.1 L810.0,433.8 L812.0,435.6 L814.0,437.3 L816.0,439.1 L818.0,440.8" fill="none" stroke="#000000" stroke-width="2.7" stroke-linejoin="round" stroke-dasharray="23.4 14.1"/>
<path d="M46.0,29.6 L48.0,30.1 L50.0,30.7 L52.0,31.3 L54.0,31.8 L56.0,32.4 L58.0,33.0 L60.0,33.5 L62.0,34.1 L64.0,34.7 L66.0,35.2 L68.0,35.8 L70.0,36.4 L72.0,36.9 L74.0,37.5 L76.0,38.0 L78.0,38.6 L80.0,39.2 L82.0,39.7 L84.0,40.3 L86.0,40.8 L88.0,41.4 L90.0,41.9 L92.0,42.5 L94.0,43.0 L96.0,43.6 L98.0,44.1 L100.0,44.7 L102.0,45.2 L104.0,45.8 L106.0,46.3 L108.0,46.8 L110.0,47.4 L112.0,47.9 L114.0,48.5 L116.0,49.0 L118.0,49.5 L120.0,50.1 L122.0,50.6 L124.0,51.2 L126.0,51.7 L128.0,52.2 L130.0,52.8 L132.0,53.3 L134.0,53.8 L136.0,54.3 L138.0,54.9 L140.0,55.4 L142.0,55.9 L144.0,56.4 L146.0,57.0 L148.0,57.5 L150.0,58.0 L152.0,58.5 L154.0,59.0 L156.0,59.6 L158.0,60.1 L160.0,60.6 L162.0,61.1 L164.0,61.6 L166.0,62.1 L168.0,62.6 L170.0,63.1 L172.0,63.6 L174.0,64.2 L176.0,64.7 L178.0,65.2 L180.0,65.7 L182.0,66.2 L184.0,66.7 L186.0,67.2 L188.0,67.7 L190.0,68.1 L192.0,68.6 L194.0,69.1 L196.0,69.6 L198.0,70.1 L200.0,70.6 L202.0,71.1 L204.0,71.6 L206.0,72.1 L208.0,72.5 L210.0,73.0 L212.0,73.5 L214.0,74.0 L216.0,74.5 L218.0,75.0 L220.0,75.5 L222.0,76.0 L224.0,76.4 L226.0,76.9 L228.0,77.4 L230.0,77.9 L232.0,78.4 L234.0,79.0 L236.0,79.5 L238.0,80.0 L240.0,80.5 L242.0,81.0 L244.0,81.6 L246.0,82.1 L248.0,82.6 L250.0,83.2 L252.0,83.8 L254.0,84.3 L256.0,84.9 L258.0,85.5 L260.0,86.1 L262.0,86.6 L264.0,87.2 L266.0,87.9 L268.0,88.5 L270.0,89.1 L272.0,89.7 L274.0,90.4 L276.0,91.1 L278.0,91.7 L280.0,92.4 L282.0,93.1 L284.0,93.8 L286.0,94.5 L288.0,95.3 L290.0,96.0 L292.0,96.8 L294.0,97.5 L296.0,98.3 L298.0,99.1 L300.0,99.9 L302.0,100.8 L304.0,101.6 L306.0,102.5 L308.0,103.4 L310.0,104.3 L312.0,105.2 L314.0,106.1 L316.0,107.1 L318.0,108.0 L320.0,109.0 L322.0,110.1 L324.0,111.1 L326.0,112.1 L328.0,113.2 L330.0,114.3 L332.0,115.4 L334.0,116.5 L336.0,117.7 L338.0,118.9 L340.0,120.1 L342.0,121.3 L344.0,122.6 L346.0,123.9 L348.0,125.2 L350.0,126.5 L352.0,127.9 L354.0,129.3 L356.0,130.8 L358.0,132.2 L360.0,133.7 L362.0,135.3 L364.0,136.8 L366.0,138.4 L368.0,140.0 L370.0,141.7 L372.0,143.4 L374.0,145.2 L376.0,146.9 L378.0,148.7 L380.0,150.6 L382.0,152.5 L384.0,154.4 L386.0,156.4 L388.0,158.4 L390.0,160.4 L392.0,162.5 L394.0,164.5 L396.0,166.6 L398.0,168.7 L400.0,170.8 L402.0,172.9 L404.0,175.0 L406.0,177.2 L408.0,179.3 L410.0,181.4 L412.0,183.4 L414.0,185.5 L416.0,187.5 L418.0,189.6 L420.0,191.6 L422.0,193.5 L424.0,195.5 L426.0,197.3 L428.0,199.2 L430.0,201.0 L432.0,202.7 L434.0,204.4 L436.0,206.1 L438.0,207.7 L440.0,209.3 L442.0,210.8 L444.0,212.3 L446.0,213.7 L448.0,215.1 L450.0,216.5 L452.0,217.8 L454.0,219.1 L456.0,220.3 L458.0,221.6 L460.0,222.8 L462.0,223.9 L464.0,225.1 L466.0,226.2 L468.0,227.2 L470.0,228.3 L472.0,229.3 L474.0,230.3 L476.0,231.3 L478.0,232.3 L480.0,233.2 L482.0,234.2 L484.0,235.1 L486.0,236.0 L488.0,236.9 L490.0,237.7 L492.0,238.6 L494.0,239.4 L496.0,240.3 L498.0,241.1 L500.0,241.9 L502.0,242.7 L504.0,243.5 L506.0,244.3 L508.0,245.1 L510.0,245.9 L512.0,246.7 L514.0,247.4 L516.0,248.2 L518.0,248.9 L520.0,249.7 L522.0,250.5 L524.0,251.2 L526.0,252.0 L528.0,252.7 L530.0,253.5 L532.0,254.2 L534.0,255.0 L536.0,255.7 L538.0,256.5 L540.0,257.2 L542.0,258.0 L544.0,258.7 L546.0,259.4 L548.0,260.2 L550.0,260.9 L552.0,261.7 L554.0,262.4 L556.0,263.1 L558.0,263.9 L560.0,264.6 L562.0,265.3 L564.0,266.1 L566.0,266.8 L568.0,267.5 L570.0,268.3 L572.0,269.0 L574.0,269.7 L576.0,270.5 L578.0,271.2 L580.0,271.9 L582.0,272.6 L584.0,273.4 L586.0,274.1 L588.0,274.8 L590.0,275.5 L592.0,276.2 L594.0,277.0 L596.0,277.7 L598.0,278.4 L600.0,279.1 L602.0,279.8 L604.0,280.5 L606.0,281.3 L608.0,282.0 L610.0,282.7 L612.0,283.4 L614.0,284.1 L616.0,284.8 L618.0,285.5 L620.0,286.2 L622.0,286.9 L624.0,287.6 L626.0,288.3 L628.0,289.0 L630.0,289.7 L632.0,290.4 L634.0,291.1 L636.0,291.8 L638.0,292.5 L640.0,293.2 L642.0,293.9 L644.0,294.6 L646.0,295.3 L648.0,296.0 L650.0,296.7 L652.0,297.4 L654.0,298.1 L656.0,298.8 L658.0,299.5 L660.0,300.2 L662.0,300.8 L664.0,301.5 L666.0,302.2 L668.0,302.9 L670.0,303.6 L672.0,304.3 L674.0,305.0 L676.0,305.6 L678.0,306.3 L680.0,307.0 L682.0,307.7 L684.0,308.4 L686.0,309.0 L688.0,309.7 L690.0,310.4 L692.0,311.1 L694.0,311.7 L696.0,312.4 L698.0,313.1 L700.0,313.8 L702.0,314.4 L704.0,315.1 L706.0,315.8 L708.0,316.4 L710.0,317.1 L712.0,317.8 L714.0,318.4 L716.0,319.1 L718.0,319.8 L720.0,320.4 L722.0,321.1 L724.0,321.8 L726.0,322.4 L728.0,323.1 L730.0,323.7 L732.0,324.4 L734.0,325.1 L736.0,325.7 L738.0,326.4 L740.0,327.0 L742.0,327.7 L744.0,328.3 L746.0,329.0 L748.0,329.7 L750.0,330.3 L752.0,331.0 L754.0,331.6 L756.0,332.3 L758.0,332.9 L760.0,333.6 L762.0,334.2 L764.0,334.9 L766.0,335.5 L768.0,336.2 L770.0,336.8 L772.0,337.5 L774.0,338.1 L776.0,338.7 L778.0,339.4 L780.0,340.0 L782.0,340.7 L784.0,341.3 L786.0,342.0 L788.0,342.6 L790.0,343.2 L792.0,343.9 L794.0,344.5 L796.0,345.2 L798.0,345.8 L800.0,346.4 L802.0,347.1 L804.0,347.7 L806.0,348.4 L808.0,349.0 L810.0,349.6 L812.0,350.3 L814.0,350.9 L816.0,351.5 L818.0,352.2" fill="none" stroke="#ff0000" stroke-width="2.7" stroke-linejoin="round"/>
<path d="M46.0,44.8 L48.0,45.1 L50.0,45.4 L52.0,45.7 L54.0,45.9 L56.0,46.2 L58.0,46.5 L60.0,46.8 L62.0,47.1 L64.0,47.4 L66.0,47.7 L68.0,48.0 L70.0,48.3 L72.0,48.5 L74.0,48.8 L76.0,49.1 L78.0,49.4 L80.0,49.7 L82.0,50.1 L84.0,50.4 L86.0,50.7 L88.0,51.0 L90.0,51.3 L92.0,51.6 L94.0,51.9 L96.0,52.2 L98.0,52.6 L100.0,52.9 L102.0,53.2 L104.0,53.5 L106.0,53.8 L108.0,54.2 L110.0,54.5 L112.0,54.8 L114.0,55.2 L116.0,55.5 L118.0,55.9 L120.0,56.2 L122.0,56.5 L124.0,56.9 L126.0,57.2 L128.0,57.6 L130.0,57.9 L132.0,58.3 L134.0,58.7 L136.0,59.0 L138.0,59.4 L140.0,59.8 L142.0,60.1 L144.0,60.5 L146.0,60.9 L148.0,61.2 L150.0,61.6 L152.0,62.0 L154.0,62.4 L156.0,62.8 L158.0,63.2 L160.0,63.6 L162.0,64.0 L164.0,64.4 L166.0,64.8 L168.0,65.2 L170.0,65.6 L172.0,66.0 L174.0,66.4 L176.0,66.8 L178.0,67.2 L180.0,67.7 L182.0,68.1 L184.0,68.5 L186.0,68.9 L188.0,69.4 L190.0,69.8 L192.0,70.3 L194.0,70.7 L196.0,71.2 L198.0,71.6 L200.0,72.1 L202.0,72.5 L204.0,73.0 L206.0,73.4 L208.0,73.9 L210.0,74.4 L212.0,74.9 L214.0,75.3 L216.0,75.8 L218.0,76.3 L220.0,76.8 L222.0,77.3 L224.0,77.8 L226.0,78.3 L228.0,78.8 L230.0,79.3 L232.0,79.9 L234.0,80.4 L236.0,80.9 L238.0,81.5 L240.0,82.0 L242.0,82.5 L244.0,83.1 L246.0,83.7 L248.0,84.2 L250.0,84.8 L252.0,85.4 L254.0,85.9 L256.0,86.5 L258.0,87.1 L260.0,87.7 L262.0,88.3 L264.0,88.9 L266.0,89.6 L268.0,90.2 L270.0,90.8 L272.0,91.4 L274.0,92.1 L276.0,92.7 L278.0,93.4 L280.0,94.1 L282.0,94.8 L284.0,95.5 L286.0,96.2 L288.0,96.9 L290.0,97.6 L292.0,98.3 L294.0,99.1 L296.0,99.8 L298.0,100.6 L300.0,101.4 L302.0,102.2 L304.0,103.0 L306.0,103.9 L308.0,104.7 L310.0,105.6 L312.0,106.5 L314.0,107.4 L316.0,108.3 L318.0,109.3 L320.0,110.3 L322.0,111.2 L324.0,112.3 L326.0,113.3 L328.0,114.3 L330.0,115.4 L332.0,116.5 L334.0,117.7 L336.0,118.8 L338.0,120.0 L340.0,121.2 L342.0,122.4 L344.0,123.7 L346.0,125.0 L348.0,126.3 L350.0,127.6 L352.0,129.0 L354.0,130.4 L356.0,131.8 L358.0,133.3 L360.0,134.8 L362.0,136.3 L364.0,137.9 L366.0,139.5 L368.0,141.1 L370.0,142.8 L372.0,144.5 L374.0,146.2 L376.0,148.0 L378.0,149.8 L380.0,151.7 L382.0,153.5 L384.0,155.5 L386.0,157.4 L388.0,159.4 L390.0,161.4 L392.0,163.4 L394.0,165.5 L396.0,167.5 L398.0,169.6 L400.0,171.7 L402.0,173.8 L404.0,175.9 L406.0,178.0 L408.0,180.1 L410.0,182.1 L412.0,184.2 L414.0,186.2 L416.0,188.3 L418.0,190.3 L420.0,192.3 L422.0,194.2 L424.0,196.1 L426.0,198.0 L428.0,199.9 L430.0,201.7 L432.0,203.4 L434.0,205.1 L436.0,206.8 L438.0,208.4 L440.0,210.0 L442.0,211.5 L444.0,213.0 L446.0,214.5 L448.0,215.9 L450.0,217.3 L452.0,218.6 L454.0,219.9 L456.0,221.2 L458.0,222.5 L460.0,223.7 L462.0,224.8 L464.0,226.0 L466.0,227.1 L468.0,228.2 L470.0,229.2 L472.0,230.3 L474.0,231.3 L476.0,232.3 L478.0,233.2 L480.0,234.1 L482.0,235.0 L484.0,235.9 L486.0,236.8 L488.0,237.6 L490.0,238.5 L492.0,239.3 L494.0,240.1 L496.0,240.9 L498.0,241.6 L500.0,242.4 L502.0,243.2 L504.0,243.9 L506.0,244.6 L508.0,245.4 L510.0,246.1 L512.0,246.8 L514.0,247.5 L516.0,248.2 L518.0,248.9 L520.0,249.6 L522.0,250.3 L524.0,251.0 L526.0,251.8 L528.0,252.5 L530.0,253.2 L532.0,253.9 L534.0,254.6 L536.0,255.4 L538.0,256.1 L540.0,256.8 L542.0,257.5 L544.0,258.3 L546.0,259.0 L548.0,259.7 L550.0,260.5 L552.0,261.2 L554.0,261.9 L556.0,262.7 L558.0,263.4 L560.0,264.1 L562.0,264.9 L564.0,265.6 L566.0,266.3 L568.0,267.1 L570.0,267.8 L572.0,268.6 L574.0,269.3 L576.0,270.0 L578.0,270.8 L580.0,271.5 L582.0,272.3 L584.0,273.0 L586.0,273.7 L588.0,274.5 L590.0,275.2 L592.0,276.0 L594.0,276.7 L596.0,277.4 L598.0,278.2 L600.0,278.9 L602.0,279.6 L604.0,280.4 L606.0,281.1 L608.0,281.8 L610.0,282.6 L612.0,283.3 L614.0,284.0 L616.0,284.7 L618.0,285.5 L620.0,286.2 L622.0,286.9 L624.0,287.6 L626.0,288.3 L628.0,289.0 L630.0,289.7 L632.0,290.5 L634.0,291.2 L636.0,291.9 L638.0,292.6 L640.0,293.3 L642.0,294.0 L644.0,294.7 L646.0,295.4 L648.0,296.0 L650.0,296.7 L652.0,297.4 L654.0,298.1 L656.0,298.8 L658.0,299.5 L660.0,300.1 L662.0,300.8 L664.0,301.5 L666.0,302.2 L668.0,302.8 L670.0,303.5 L672.0,304.2 L674.0,304.8 L676.0,305.5 L678.0,306.2 L680.0,306.8 L682.0,307.5 L684.0,308.2 L686.0,308.8 L688.0,309.5 L690.0,310.1 L692.0,310.8 L694.0,311.4 L696.0,312.1 L698.0,312.7 L700.0,313.4 L702.0,314.0 L704.0,314.7 L706.0,315.3 L708.0,316.0 L710.0,316.6 L712.0,317.3 L714.0,317.9 L716.0,318.6 L718.0,319.2 L720.0,319.9 L722.0,320.5 L724.0,321.2 L726.0,321.8 L728.0,322.4 L730.0,323.1 L732.0,323.7 L734.0,324.4 L736.0,325.0 L738.0,325.7 L740.0,326.3 L742.0,327.0 L744.0,327.6 L746.0,328.2 L748.0,328.9 L750.0,329.5 L752.0,330.2 L754.0,330.8 L756.0,331.5 L758.0,332.1 L760.0,332.8 L762.0,333.4 L764.0,334.1 L766.0,334.7 L768.0,335.4 L770.0,336.0 L772.0,336.7 L774.0,337.3 L776.0,338.0 L778.0,338.7 L780.0,339.3 L782.0,340.0 L784.0,340.6 L786.0,341.3 L788.0,342.0 L790.0,342.6 L792.0,343.3 L794.0,343.9 L796.0,344.6 L798.0,345.3 L800.0,346.0 L802.0,346.6 L804.0,347.3 L806.0,348.0 L808.0,348.7 L810.0,349.3 L812.0,350.0 L814.0,350.7 L816.0,351.4 L818.0,352.1" fill="none" stroke="#ff00ff" stroke-width="2.7" stroke-linejoin="round"/>
<path d="M46.0,29.7 L48.0,30.1 L50.0,30.5 L52.0,30.8 L54.0,31.2 L56.0,31.6 L58.0,31.9 L60.0,32.3 L62.0,32.7 L64.0,33.1 L66.0,33.5 L68.0,33.9 L70.0,34.3 L72.0,34.7 L74.0,35.1 L76.0,35.5 L78.0,35.9 L80.0,36.3 L82.0,36.7 L84.0,37.1 L86.0,37.5 L88.0,37.9 L90.0,38.4 L92.0,38.8 L94.0,39.2 L96.0,39.6 L98.0,40.0 L100.0,40.5 L102.0,40.9 L104.0,41.3 L106.0,41.8 L108.0,42.2 L110.0,42.6 L112.0,43.1 L114.0,43.5 L116.0,43.9 L118.0,44.4 L120.0,44.8 L122.0,45.3 L124.0,45.7 L126.0,46.1 L128.0,46.6 L130.0,47.0 L132.0,47.5 L134.0,47.9 L136.0,48.4 L138.0,48.8 L140.0,49.3 L142.0,49.7 L144.0,50.1 L146.0,50.6 L148.0,51.0 L150.0,51.5 L152.0,51.9 L154.0,52.4 L156.0,52.8 L158.0,53.3 L160.0,53.7 L162.0,54.2 L164.0,54.6 L166.0,55.1 L168.0,55.5 L170.0,56.0 L172.0,56.4 L174.0,56.9 L176.0,57.3 L178.0,57.8 L180.0,58.2 L182.0,58.6 L184.0,59.1 L186.0,59.5 L188.0,60.0 L190.0,60.4 L192.0,60.8 L194.0,61.3 L196.0,61.7 L198.0,62.2 L200.0,62.6 L202.0,63.0 L204.0,63.5 L206.0,63.9 L208.0,64.3 L210.0,64.8 L212.0,65.2 L214.0,65.6 L216.0,66.1 L218.0,66.5 L220.0,66.9 L222.0,67.4 L224.0,67.8 L226.0,68.3 L228.0,68.7 L230.0,69.1 L232.0,69.6 L234.0,70.0 L236.0,70.5 L238.0,70.9 L240.0,71.4 L242.0,71.8 L244.0,72.3 L246.0,72.8 L248.0,73.2 L250.0,73.7 L252.0,74.2 L254.0,74.7 L256.0,75.2 L258.0,75.6 L260.0,76.1 L262.0,76.6 L264.0,77.1 L266.0,77.6 L268.0,78.2 L270.0,78.7 L272.0,79.2 L274.0,79.7 L276.0,80.3 L278.0,80.8 L280.0,81.3 L282.0,81.9 L284.0,82.5 L286.0,83.0 L288.0,83.6 L290.0,84.2 L292.0,84.8 L294.0,85.3 L296.0,85.9 L298.0,86.6 L300.0,87.2 L302.0,87.8 L304.0,88.4 L306.0,89.1 L308.0,89.7 L310.0,90.4 L312.0,91.0 L314.0,91.7 L316.0,92.4 L318.0,93.1 L320.0,93.8 L322.0,94.5 L324.0,95.2 L326.0,96.0 L328.0,96.7 L330.0,97.5 L332.0,98.2 L334.0,99.0 L336.0,99.8 L338.0,100.6 L340.0,101.4 L342.0,102.2 L344.0,103.1 L346.0,103.9 L348.0,104.8 L350.0,105.6 L352.0,106.5 L354.0,107.4 L356.0,108.3 L358.0,109.2 L360.0,110.2 L362.0,111.1 L364.0,112.1 L366.0,113.0 L368.0,114.0 L370.0,115.0 L372.0,116.0 L374.0,117.1 L376.0,118.1 L378.0,119.2 L380.0,120.3 L382.0,121.3 L384.0,122.4 L386.0,123.6 L388.0,124.7 L390.0,125.8 L392.0,127.0 L394.0,128.2 L396.0,129.4 L398.0,130.5 L400.0,131.7 L402.0,133.0 L404.0,134.2 L406.0,135.4 L408.0,136.7 L410.0,137.9 L412.0,139.2 L414.0,140.4 L416.0,141.7 L418.0,142.9 L420.0,144.2 L422.0,145.5 L424.0,146.8 L426.0,148.1 L428.0,149.3 L430.0,150.6 L432.0,151.9 L434.0,153.2 L436.0,154.5 L438.0,155.8 L440.0,157.1 L442.0,158.4 L444.0,159.6 L446.0,160.9 L448.0,162.2 L450.0,163.5 L452.0,164.7 L454.0,166.0 L456.0,167.2 L458.0,168.5 L460.0,169.7 L462.0,171.0 L464.0,172.2 L466.0,173.5 L468.0,174.7 L470.0,175.9 L472.0,177.1 L474.0,178.4 L476.0,179.6 L478.0,180.8 L480.0,182.0 L482.0,183.2 L484.0,184.4 L486.0,185.6 L488.0,186.7 L490.0,187.9 L492.0,189.1 L494.0,190.2 L496.0,191.4 L498.0,192.6 L500.0,193.7 L502.0,194.8 L504.0,196.0 L506.0,197.1 L508.0,198.2 L510.0,199.3 L512.0,200.4 L514.0,201.5 L516.0,202.6 L518.0,203.7 L520.0,204.8 L522.0,205.9 L524.0,207.0 L526.0,208.0 L528.0,209.1 L530.0,210.1 L532.0,211.2 L534.0,212.2 L536.0,213.2 L538.0,214.3 L540.0,215.3 L542.0,216.3 L544.0,217.3 L546.0,218.3 L548.0,219.3 L550.0,220.3 L552.0,221.3 L554.0,222.2 L556.0,223.2 L558.0,224.2 L560.0,225.1 L562.0,226.1 L564.0,227.0 L566.0,228.0 L568.0,228.9 L570.0,229.8 L572.0,230.8 L574.0,231.7 L576.0,232.6 L578.0,233.5 L580.0,234.5 L582.0,235.4 L584.0,236.3 L586.0,237.2 L588.0,238.1 L590.0,238.9 L592.0,239.8 L594.0,240.7 L596.0,241.6 L598.0,242.5 L600.0,243.3 L602.0,244.2 L604.0,245.1 L606.0,245.9 L608.0,246.8 L610.0,247.7 L612.0,248.5 L614.0,249.4 L616.0,250.2 L618.0,251.0 L620.0,251.9 L622.0,252.7 L624.0,253.6 L626.0,254.4 L628.0,255.2 L630.0,256.1 L632.0,256.9 L634.0,257.7 L636.0,258.5 L638.0,259.4 L640.0,260.2 L642.0,261.0 L644.0,261.8 L646.0,262.6 L648.0,263.4 L650.0,264.2 L652.0,265.1 L654.0,265.9 L656.0,266.7 L658.0,267.5 L660.0,268.3 L662.0,269.1 L664.0,269.9 L666.0,270.7 L668.0,271.5 L670.0,272.3 L672.0,273.1 L674.0,273.9 L676.0,274.7 L678.0,275.5 L680.0,276.2 L682.0,277.0 L684.0,277.8 L686.0,278.6 L688.0,279.4 L690.0,280.2 L692.0,281.0 L694.0,281.7 L696.0,282.5 L698.0,283.3 L700.0,284.1 L702.0,284.9 L704.0,285.6 L706.0,286.4 L708.0,287.2 L710.0,288.0 L712.0,288.7 L714.0,289.5 L716.0,290.3 L718.0,291.0 L720.0,291.8 L722.0,292.6 L724.0,293.3 L726.0,294.1 L728.0,294.8 L730.0,295.6 L732.0,296.4 L734.0,297.1 L736.0,297.9 L738.0,298.6 L740.0,299.4 L742.0,300.1 L744.0,300.9 L746.0,301.6 L748.0,302.4 L750.0,303.1 L752.0,303.9 L754.0,304.6 L756.0,305.4 L758.0,306.1 L760.0,306.9 L762.0,307.6 L764.0,308.3 L766.0,309.1 L768.0,309.8 L770.0,310.5 L772.0,311.3 L774.0,312.0 L776.0,312.7 L778.0,313.5 L780.0,314.2 L782.0,314.9 L784.0,315.7 L786.0,316.4 L788.0,317.1 L790.0,317.8 L792.0,318.5 L794.0,319.3 L796.0,320.0 L798.0,320.7 L800.0,321.4 L802.0,322.1 L804.0,322.9 L806.0,323.6 L808.0,324.3 L810.0,325.0 L812.0,325.7 L814.0,326.4 L816.0,327.1 L818.0,327.8" fill="none" stroke="#ff0000" stroke-width="2.7" stroke-linejoin="round" stroke-dasharray="18.75 7.05 4.65 7.05"/>
<path d="M46.0,29.5 L48.0,30.1 L50.0,30.7 L52.0,31.3 L54.0,31.9 L56.0,32.5 L58.0,33.1 L60.0,33.6 L62.0,34.2 L64.0,34.8 L66.0,35.4 L68.0,36.0 L70.0,36.5 L72.0,37.1 L74.0,37.7 L76.0,38.3 L78.0,38.8 L80.0,39.4 L82.0,39.9 L84.0,40.5 L86.0,41.1 L88.0,41.6 L90.0,42.2 L92.0,42.7 L94.0,43.2 L96.0,43.8 L98.0,44.3 L100.0,44.9 L102.0,45.4 L104.0,46.0 L106.0,46.5 L108.0,47.0 L110.0,47.6 L112.0,48.1 L114.0,48.6 L116.0,49.1 L118.0,49.7 L120.0,50.2 L122.0,50.7 L124.0,51.2 L126.0,51.7 L128.0,52.3 L130.0,52.8 L132.0,53.3 L134.0,53.8 L136.0,54.3 L138.0,54.8 L140.0,55.4 L142.0,55.9 L144.0,56.4 L146.0,56.9 L148.0,57.4 L150.0,57.9 L152.0,58.4 L154.0,58.9 L156.0,59.4 L158.0,59.9 L160.0,60.4 L162.0,60.9 L164.0,61.4 L166.0,61.9 L168.0,62.4 L170.0,62.9 L172.0,63.4 L174.0,63.9 L176.0,64.4 L178.0,64.9 L180.0,65.5 L182.0,66.0 L184.0,66.5 L186.0,67.0 L188.0,67.5 L190.0,68.0 L192.0,68.5 L194.0,69.0 L196.0,69.5 L198.0,70.0 L200.0,70.5 L202.0,71.0 L204.0,71.5 L206.0,72.0 L208.0,72.5 L210.0,73.0 L212.0,73.5 L214.0,74.0 L216.0,74.5 L218.0,75.0 L220.0,75.5 L222.0,76.1 L224.0,76.6 L226.0,77.1 L228.0,77.6 L230.0,78.1 L232.0,78.6 L234.0,79.2 L236.0,79.7 L238.0,80.2 L240.0,80.7 L242.0,81.2 L244.0,81.8 L246.0,82.3 L248.0,82.8 L250.0,83.4 L252.0,83.9 L254.0,84.4 L256.0,85.0 L258.0,85.5 L260.0,86.1 L262.0,86.6 L264.0,87.2 L266.0,87.8 L268.0,88.3 L270.0,88.9 L272.0,89.6 L274.0,90.2 L276.0,90.8 L278.0,91.5 L280.0,92.2 L282.0,92.9 L284.0,93.6 L286.0,94.4 L288.0,95.2 L290.0,96.0 L292.0,96.8 L294.0,97.6 L296.0,98.5 L298.0,99.4 L300.0,100.3 L302.0,101.2 L304.0,102.1 L306.0,103.0 L308.0,103.9 L310.0,104.8 L312.0,105.8 L314.0,106.7 L316.0,107.6 L318.0,108.5 L320.0,109.4 L322.0,110.2 L324.0,111.1 L326.0,111.9 L328.0,112.7 L330.0,113.5 L332.0,114.3 L334.0,115.1 L336.0,115.9 L338.0,116.7 L340.0,117.5 L342.0,118.4 L344.0,119.3 L346.0,120.2 L348.0,121.2 L350.0,122.2 L352.0,123.3 L354.0,124.4 L356.0,125.6 L358.0,126.9 L360.0,128.2 L362.0,129.6 L364.0,131.0 L366.0,132.5 L368.0,133.9 L370.0,135.5 L372.0,137.1 L374.0,138.7 L376.0,140.3 L378.0,142.0 L380.0,143.7 L382.0,145.4 L384.0,147.1 L386.0,148.9 L388.0,150.7 L390.0,152.5 L392.0,154.3 L394.0,156.1 L396.0,158.0 L398.0,159.9 L400.0,161.7 L402.0,163.6 L404.0,165.5 L406.0,167.4 L408.0,169.4 L410.0,171.3 L412.0,173.2 L414.0,175.2 L416.0,177.1 L418.0,179.1 L420.0,181.1 L422.0,183.0 L424.0,185.0 L426.0,187.0 L428.0,189.0 L430.0,191.0 L432.0,193.0 L434.0,195.0 L436.0,197.0 L438.0,199.0 L440.0,201.0 L442.0,203.0 L444.0,205.0 L446.0,207.0 L448.0,209.0 L450.0,211.0 L452.0,213.0 L454.0,215.0 L456.0,217.0 L458.0,218.9 L460.0,220.9 L462.0,222.9 L464.0,224.9 L466.0,226.8 L468.0,228.7 L470.0,230.6 L472.0,232.5 L474.0,234.3 L476.0,236.1 L478.0,237.8 L480.0,239.5 L482.0,241.2 L484.0,242.8 L486.0,244.3 L488.0,245.8 L490.0,247.2 L492.0,248.6 L494.0,249.9 L496.0,251.2 L498.0,252.4 L500.0,253.6 L502.0,254.8 L504.0,256.0 L506.0,257.1 L508.0,258.2 L510.0,259.3 L512.0,260.4 L514.0,261.4 L516.0,262.5 L518.0,263.6 L520.0,264.6 L522.0,265.7 L524.0,266.8 L526.0,267.8 L528.0,268.9 L530.0,270.0 L532.0,271.1 L534.0,272.2 L536.0,273.3 L538.0,274.4 L540.0,275.5 L542.0,276.6 L544.0,277.7 L546.0,278.8 L548.0,279.9 L550.0,281.1 L552.0,282.2 L554.0,283.3 L556.0,284.4 L558.0,285.5 L560.0,286.7 L562.0,287.8 L564.0,288.9 L566.0,290.1 L568.0,291.2 L570.0,292.3 L572.0,293.5 L574.0,294.6 L576.0,295.7 L578.0,296.9 L580.0,298.0 L582.0,299.1 L584.0,300.3 L586.0,301.4 L588.0,302.5 L590.0,303.7 L592.0,304.8 L594.0,306.0 L596.0,307.1 L598.0,308.2 L600.0,309.4 L602.0,310.5 L604.0,311.6 L606.0,312.8 L608.0,313.9 L610.0,315.0 L612.0,316.1 L614.0,317.3 L616.0,318.4 L618.0,319.5 L620.0,320.6 L622.0,321.7 L624.0,322.9 L626.0,324.0 L628.0,325.1 L630.0,326.2 L632.0,327.3 L634.0,328.5 L636.0,329.6 L638.0,330.7 L640.0,331.8 L642.0,333.0 L644.0,334.1 L646.0,335.2 L648.0,336.4 L650.0,337.5 L652.0,338.6 L654.0,339.8 L656.0,340.9 L658.0,342.1 L660.0,343.3 L662.0,344.4 L664.0,345.6 L666.0,346.8 L668.0,348.0 L670.0,349.2 L672.0,350.4 L674.0,351.6 L676.0,352.8 L678.0,354.0 L680.0,355.3 L682.0,356.5 L684.0,357.8 L686.0,359.1 L688.0,360.3 L690.0,361.6 L692.0,362.9 L694.0,364.2 L696.0,365.5 L698.0,366.8 L700.0,368.1 L702.0,369.4 L704.0,370.8 L706.0,372.1 L708.0,373.4 L710.0,374.8 L712.0,376.1 L714.0,377.5 L716.0,378.8 L718.0,380.2 L720.0,381.5 L722.0,382.9 L724.0,384.2 L726.0,385.6 L728.0,387.0 L730.0,388.3 L732.0,389.7 L734.0,391.0 L736.0,392.4 L738.0,393.7 L740.0,395.1 L742.0,396.4 L744.0,397.8 L746.0,399.1 L748.0,400.5 L750.0,401.8 L752.0,403.2 L754.0,404.5 L756.0,405.8 L758.0,407.2 L760.0,408.5 L762.0,409.8 L764.0,411.1 L766.0,412.5 L768.0,413.8 L770.0,415.1 L772.0,416.5 L774.0,417.8 L776.0,419.1 L778.0,420.5 L780.0,421.8 L782.0,423.2 L784.0,424.5 L786.0,425.8 L788.0,427.2 L790.0,428.5 L792.0,429.9 L794.0,431.2 L796.0,432.6 L798.0,434.0 L800.0,435.3 L802.0,436.7 L804.0,438.1 L806.0,439.5 L808.0,440.8 L810.0,442.2 L812.0,443.6 L814.0,445.0 L816.0,446.5 L818.0,447.9" fill="none" stroke="#ff0000" stroke-width="2.7" stroke-linejoin="round" stroke-dasharray="23.4 14.1"/>
<path d="M46.0,43.3 L48.0,43.6 L50.0,43.9 L52.0,44.2 L54.0,44.6 L56.0,44.9 L58.0,45.2 L60.0,45.5 L62.0,45.9 L64.0,46.2 L66.0,46.5 L68.0,46.9 L70.0,47.2 L72.0,47.5 L74.0,47.8 L76.0,48.2 L78.0,48.5 L80.0,48.8 L82.0,49.2 L84.0,49.5 L86.0,49.8 L88.0,50.2 L90.0,50.5 L92.0,50.8 L94.0,51.2 L96.0,51.5 L98.0,51.8 L100.0,52.2 L102.0,52.5 L104.0,52.9 L106.0,53.2 L108.0,53.5 L110.0,53.9 L112.0,54.2 L114.0,54.6 L116.0,54.9 L118.0,55.3 L120.0,55.6 L122.0,56.0 L124.0,56.3 L126.0,56.7 L128.0,57.1 L130.0,57.4 L132.0,57.8 L134.0,58.2 L136.0,58.5 L138.0,58.9 L140.0,59.3 L142.0,59.6 L144.0,60.0 L146.0,60.4 L148.0,60.8 L150.0,61.2 L152.0,61.6 L154.0,61.9 L156.0,62.3 L158.0,62.7 L160.0,63.1 L162.0,63.5 L164.0,63.9 L166.0,64.3 L168.0,64.7 L170.0,65.2 L172.0,65.6 L174.0,66.0 L176.0,66.4 L178.0,66.8 L180.0,67.3 L182.0,67.7 L184.0,68.1 L186.0,68.6 L188.0,69.0 L190.0,69.4 L192.0,69.9 L194.0,70.3 L196.0,70.8 L198.0,71.3 L200.0,71.7 L202.0,72.2 L204.0,72.7 L206.0,73.1 L208.0,73.6 L210.0,74.1 L212.0,74.6 L214.0,75.1 L216.0,75.6 L218.0,76.1 L220.0,76.6 L222.0,77.1 L224.0,77.6 L226.0,78.1 L228.0,78.6 L230.0,79.1 L232.0,79.7 L234.0,80.2 L236.0,80.7 L238.0,81.3 L240.0,81.8 L242.0,82.4 L244.0,82.9 L246.0,83.5 L248.0,84.1 L250.0,84.6 L252.0,85.2 L254.0,85.8 L256.0,86.4 L258.0,87.0 L260.0,87.6 L262.0,88.2 L264.0,88.8 L266.0,89.4 L268.0,90.1 L270.0,90.7 L272.0,91.3 L274.0,92.0 L276.0,92.6 L278.0,93.3 L280.0,93.9 L282.0,94.6 L284.0,95.3 L286.0,96.0 L288.0,96.7 L290.0,97.4 L292.0,98.1 L294.0,98.8 L296.0,99.6 L298.0,100.3 L300.0,101.1 L302.0,101.9 L304.0,102.7 L306.0,103.5 L308.0,104.4 L310.0,105.2 L312.0,106.1 L314.0,107.0 L316.0,107.9 L318.0,108.8 L320.0,109.8 L322.0,110.8 L324.0,111.8 L326.0,112.8 L328.0,113.8 L330.0,114.9 L332.0,116.0 L334.0,117.1 L336.0,118.2 L338.0,119.4 L340.0,120.6 L342.0,121.8 L344.0,123.0 L346.0,124.3 L348.0,125.6 L350.0,127.0 L352.0,128.3 L354.0,129.7 L356.0,131.1 L358.0,132.6 L360.0,134.1 L362.0,135.6 L364.0,137.2 L366.0,138.8 L368.0,140.4 L370.0,142.1 L372.0,143.8 L374.0,145.5 L376.0,147.3 L378.0,149.1 L380.0,151.0 L382.0,152.9 L384.0,154.8 L386.0,156.8 L388.0,158.8 L390.0,160.8 L392.0,162.8 L394.0,164.9 L396.0,167.0 L398.0,169.1 L400.0,171.2 L402.0,173.3 L404.0,175.4 L406.0,177.5 L408.0,179.6 L410.0,181.7 L412.0,183.8 L414.0,185.9 L416.0,187.9 L418.0,189.9 L420.0,191.9 L422.0,193.9 L424.0,195.8 L426.0,197.7 L428.0,199.5 L430.0,201.3 L432.0,203.1 L434.0,204.8 L436.0,206.4 L438.0,208.0 L440.0,209.6 L442.0,211.1 L444.0,212.6 L446.0,214.0 L448.0,215.4 L450.0,216.7 L452.0,218.1 L454.0,219.3 L456.0,220.6 L458.0,221.8 L460.0,223.0 L462.0,224.1 L464.0,225.3 L466.0,226.4 L468.0,227.4 L470.0,228.5 L472.0,229.5 L474.0,230.5 L476.0,231.5 L478.0,232.5 L480.0,233.4 L482.0,234.3 L484.0,235.3 L486.0,236.2 L488.0,237.0 L490.0,237.9 L492.0,238.8 L494.0,239.6 L496.0,240.5 L498.0,241.3 L500.0,242.1 L502.0,242.9 L504.0,243.7 L506.0,244.5 L508.0,245.3 L510.0,246.1 L512.0,246.9 L514.0,247.6 L516.0,248.4 L518.0,249.2 L520.0,249.9 L522.0,250.7 L524.0,251.4 L526.0,252.2 L528.0,253.0 L530.0,253.7 L532.0,254.5 L534.0,255.2 L536.0,256.0 L538.0,256.7 L540.0,257.5 L542.0,258.2 L544.0,259.0 L546.0,259.7 L548.0,260.5 L550.0,261.2 L552.0,261.9 L554.0,262.7 L556.0,263.4 L558.0,264.2 L560.0,264.9 L562.0,265.6 L564.0,266.4 L566.0,267.1 L568.0,267.8 L570.0,268.6 L572.0,269.3 L574.0,270.0 L576.0,270.8 L578.0,271.5 L580.0,272.2 L582.0,272.9 L584.0,273.7 L586.0,274.4 L588.0,275.1 L590.0,275.8 L592.0,276.5 L594.0,277.3 L596.0,278.0 L598.0,278.7 L600.0,279.4 L602.0,280.1 L604.0,280.8 L606.0,281.5 L608.0,282.3 L610.0,283.0 L612.0,283.7 L614.0,284.4 L616.0,285.1 L618.0,285.8 L620.0,286.5 L622.0,287.2 L624.0,287.9 L626.0,288.6 L628.0,289.3 L630.0,290.0 L632.0,290.7 L634.0,291.4 L636.0,292.1 L638.0,292.8 L640.0,293.5 L642.0,294.2 L644.0,294.9 L646.0,295.6 L648.0,296.3 L650.0,297.0 L652.0,297.7 L654.0,298.3 L656.0,299.0 L658.0,299.7 L660.0,300.4 L662.0,301.1 L664.0,301.8 L666.0,302.5 L668.0,303.1 L670.0,303.8 L672.0,304.5 L674.0,305.2 L676.0,305.9 L678.0,306.6 L680.0,307.2 L682.0,307.9 L684.0,308.6 L686.0,309.3 L688.0,309.9 L690.0,310.6 L692.0,311.3 L694.0,312.0 L696.0,312.6 L698.0,313.3 L700.0,314.0 L702.0,314.6 L704.0,315.3 L706.0,316.0 L708.0,316.6 L710.0,317.3 L712.0,318.0 L714.0,318.6 L716.0,319.3 L718.0,320.0 L720.0,320.6 L722.0,321.3 L724.0,322.0 L726.0,322.6 L728.0,323.3 L730.0,323.9 L732.0,324.6 L734.0,325.3 L736.0,325.9 L738.0,326.6 L740.0,327.2 L742.0,327.9 L744.0,328.6 L746.0,329.2 L748.0,329.9 L750.0,330.5 L752.0,331.2 L754.0,331.8 L756.0,332.5 L758.0,333.1 L760.0,333.8 L762.0,334.4 L764.0,335.1 L766.0,335.7 L768.0,336.4 L770.0,337.0 L772.0,337.7 L774.0,338.3 L776.0,339.0 L778.0,339.6 L780.0,340.3 L782.0,340.9 L784.0,341.5 L786.0,342.2 L788.0,342.8 L790.0,343.5 L792.0,344.1 L794.0,344.8 L796.0,345.4 L798.0,346.0 L800.0,346.7 L802.0,347.3 L804.0,348.0 L806.0,348.6 L808.0,349.2 L810.0,349.9 L812.0,350.5 L814.0,351.2 L816.0,351.8 L818.0,352.4" fill="none" stroke="#0000ff" stroke-width="2.7" stroke-linejoin="round"/>
<path d="M46.0,41.8 L48.0,42.1 L50.0,42.3 L52.0,42.6 L54.0,42.8 L56.0,43.1 L58.0,43.3 L60.0,43.6 L62.0,43.8 L64.0,44.1 L66.0,44.4 L68.0,44.6 L70.0,44.9 L72.0,45.1 L74.0,45.4 L76.0,45.6 L78.0,45.9 L80.0,46.2 L82.0,46.4 L84.0,46.7 L86.0,46.9 L88.0,47.2 L90.0,47.5 L92.0,47.7 L94.0,48.0 L96.0,48.3 L98.0,48.5 L100.0,48.8 L102.0,49.1 L104.0,49.4 L106.0,49.6 L108.0,49.9 L110.0,50.2 L112.0,50.5 L114.0,50.7 L116.0,51.0 L118.0,51.3 L120.0,51.6 L122.0,51.9 L124.0,52.2 L126.0,52.5 L128.0,52.8 L130.0,53.1 L132.0,53.4 L134.0,53.7 L136.0,54.0 L138.0,54.3 L140.0,54.6 L142.0,54.9 L144.0,55.2 L146.0,55.5 L148.0,55.8 L150.0,56.2 L152.0,56.5 L154.0,56.8 L156.0,57.1 L158.0,57.5 L160.0,57.8 L162.0,58.1 L164.0,58.5 L166.0,58.8 L168.0,59.2 L170.0,59.5 L172.0,59.9 L174.0,60.2 L176.0,60.6 L178.0,61.0 L180.0,61.3 L182.0,61.7 L184.0,62.1 L186.0,62.5 L188.0,62.8 L190.0,63.2 L192.0,63.6 L194.0,64.0 L196.0,64.4 L198.0,64.8 L200.0,65.2 L202.0,65.6 L204.0,66.0 L206.0,66.4 L208.0,66.9 L210.0,67.3 L212.0,67.7 L214.0,68.1 L216.0,68.6 L218.0,69.0 L220.0,69.4 L222.0,69.9 L224.0,70.3 L226.0,70.8 L228.0,71.2 L230.0,71.7 L232.0,72.1 L234.0,72.6 L236.0,73.0 L238.0,73.5 L240.0,73.9 L242.0,74.4 L244.0,74.9 L246.0,75.3 L248.0,75.8 L250.0,76.3 L252.0,76.7 L254.0,77.2 L256.0,77.7 L258.0,78.1 L260.0,78.6 L262.0,79.1 L264.0,79.6 L266.0,80.0 L268.0,80.5 L270.0,81.0 L272.0,81.5 L274.0,82.0 L276.0,82.5 L278.0,82.9 L280.0,83.4 L282.0,83.9 L284.0,84.4 L286.0,84.9 L288.0,85.4 L290.0,85.9 L292.0,86.4 L294.0,87.0 L296.0,87.5 L298.0,88.0 L300.0,88.6 L302.0,89.1 L304.0,89.7 L306.0,90.2 L308.0,90.8 L310.0,91.4 L312.0,92.0 L314.0,92.6 L316.0,93.2 L318.0,93.8 L320.0,94.5 L322.0,95.1 L324.0,95.8 L326.0,96.5 L328.0,97.1 L330.0,97.8 L332.0,98.6 L334.0,99.3 L336.0,100.0 L338.0,100.8 L340.0,101.5 L342.0,102.3 L344.0,103.1 L346.0,103.9 L348.0,104.8 L350.0,105.6 L352.0,106.5 L354.0,107.3 L356.0,108.2 L358.0,109.1 L360.0,110.0 L362.0,111.0 L364.0,111.9 L366.0,112.9 L368.0,113.9 L370.0,114.9 L372.0,115.9 L374.0,116.9 L376.0,118.0 L378.0,119.0 L380.0,120.1 L382.0,121.2 L384.0,122.3 L386.0,123.4 L388.0,124.6 L390.0,125.7 L392.0,126.9 L394.0,128.1 L396.0,129.3 L398.0,130.5 L400.0,131.7 L402.0,132.9 L404.0,134.2 L406.0,135.4 L408.0,136.7 L410.0,137.9 L412.0,139.2 L414.0,140.5 L416.0,141.8 L418.0,143.0 L420.0,144.3 L422.0,145.6 L424.0,146.9 L426.0,148.2 L428.0,149.5 L430.0,150.8 L432.0,152.1 L434.0,153.4 L436.0,154.7 L438.0,156.0 L440.0,157.3 L442.0,158.6 L444.0,159.9 L446.0,161.1 L448.0,162.4 L450.0,163.7 L452.0,164.9 L454.0,166.2 L456.0,167.4 L458.0,168.7 L460.0,169.9 L462.0,171.2 L464.0,172.4 L466.0,173.6 L468.0,174.8 L470.0,176.1 L472.0,177.3 L474.0,178.5 L476.0,179.7 L478.0,180.9 L480.0,182.0 L482.0,183.2 L484.0,184.4 L486.0,185.6 L488.0,186.7 L490.0,187.9 L492.0,189.0 L494.0,190.2 L496.0,191.3 L498.0,192.5 L500.0,193.6 L502.0,194.7 L504.0,195.8 L506.0,197.0 L508.0,198.1 L510.0,199.2 L512.0,200.3 L514.0,201.4 L516.0,202.4 L518.0,203.5 L520.0,204.6 L522.0,205.7 L524.0,206.7 L526.0,207.8 L528.0,208.8 L530.0,209.9 L532.0,210.9 L534.0,212.0 L536.0,213.0 L538.0,214.0 L540.0,215.0 L542.0,216.1 L544.0,217.1 L546.0,218.1 L548.0,219.1 L550.0,220.1 L552.0,221.1 L554.0,222.1 L556.0,223.0 L558.0,224.0 L560.0,225.0 L562.0,226.0 L564.0,226.9 L566.0,227.9 L568.0,228.8 L570.0,229.8 L572.0,230.7 L574.0,231.7 L576.0,232.6 L578.0,233.5 L580.0,234.5 L582.0,235.4 L584.0,236.3 L586.0,237.2 L588.0,238.1 L590.0,239.0 L592.0,239.9 L594.0,240.8 L596.0,241.7 L598.0,242.6 L600.0,243.5 L602.0,244.4 L604.0,245.3 L606.0,246.2 L608.0,247.0 L610.0,247.9 L612.0,248.8 L614.0,249.6 L616.0,250.5 L618.0,251.3 L620.0,252.2 L622.0,253.0 L624.0,253.9 L626.0,254.7 L628.0,255.6 L630.0,256.4 L632.0,257.2 L634.0,258.1 L636.0,258.9 L638.0,259.7 L640.0,260.5 L642.0,261.4 L644.0,262.2 L646.0,263.0 L648.0,263.8 L650.0,264.6 L652.0,265.4 L654.0,266.2 L656.0,267.0 L658.0,267.8 L660.0,268.6 L662.0,269.4 L664.0,270.2 L666.0,271.0 L668.0,271.8 L670.0,272.6 L672.0,273.4 L674.0,274.1 L676.0,274.9 L678.0,275.7 L680.0,276.5 L682.0,277.2 L684.0,278.0 L686.0,278.8 L688.0,279.5 L690.0,280.3 L692.0,281.1 L694.0,281.8 L696.0,282.6 L698.0,283.4 L700.0,284.1 L702.0,284.9 L704.0,285.6 L706.0,286.4 L708.0,287.1 L710.0,287.9 L712.0,288.6 L714.0,289.4 L716.0,290.1 L718.0,290.9 L720.0,291.6 L722.0,292.4 L724.0,293.1 L726.0,293.9 L728.0,294.6 L730.0,295.4 L732.0,296.1 L734.0,296.8 L736.0,297.6 L738.0,298.3 L740.0,299.1 L742.0,299.8 L744.0,300.5 L746.0,301.3 L748.0,302.0 L750.0,302.7 L752.0,303.5 L754.0,304.2 L756.0,305.0 L758.0,305.7 L760.0,306.4 L762.0,307.2 L764.0,307.9 L766.0,308.6 L768.0,309.4 L770.0,310.1 L772.0,310.8 L774.0,311.6 L776.0,312.3 L778.0,313.1 L780.0,313.8 L782.0,314.5 L784.0,315.3 L786.0,316.0 L788.0,316.8 L790.0,317.5 L792.0,318.2 L794.0,319.0 L796.0,319.7 L798.0,320.5 L800.0,321.2 L802.0,322.0 L804.0,322.7 L806.0,323.5 L808.0,324.2 L810.0,325.0 L812.0,325.7 L814.0,326.5 L816.0,327.2 L818.0,328.0" fill="none" stroke="#0000ff" stroke-width="2.7" stroke-linejoin="round" stroke-dasharray="18.75 7.05 4.65 7.05"/>
<path d="M46.0,43.3 L48.0,43.6 L50.0,43.9 L52.0,44.2 L54.0,44.6 L56.0,44.9 L58.0,45.2 L60.0,45.5 L62.0,45.8 L64.0,46.1 L66.0,46.5 L68.0,46.8 L70.0,47.1 L72.0,47.4 L74.0,47.8 L76.0,48.1 L78.0,48.4 L80.0,48.7 L82.0,49.1 L84.0,49.4 L86.0,49.7 L88.0,50.1 L90.0,50.4 L92.0,50.7 L94.0,51.1 L96.0,51.4 L98.0,51.7 L100.0,52.1 L102.0,52.4 L104.0,52.8 L106.0,53.1 L108.0,53.5 L110.0,53.8 L112.0,54.2 L114.0,54.5 L116.0,54.9 L118.0,55.2 L120.0,55.6 L122.0,56.0 L124.0,56.3 L126.0,56.7 L128.0,57.0 L130.0,57.4 L132.0,57.8 L134.0,58.2 L136.0,58.5 L138.0,58.9 L140.0,59.3 L142.0,59.7 L144.0,60.0 L146.0,60.4 L148.0,60.8 L150.0,61.2 L152.0,61.6 L154.0,62.0 L156.0,62.4 L158.0,62.8 L160.0,63.2 L162.0,63.6 L164.0,64.0 L166.0,64.4 L168.0,64.8 L170.0,65.2 L172.0,65.7 L174.0,66.1 L176.0,66.5 L178.0,66.9 L180.0,67.4 L182.0,67.8 L184.0,68.2 L186.0,68.7 L188.0,69.1 L190.0,69.5 L192.0,70.0 L194.0,70.4 L196.0,70.9 L198.0,71.4 L200.0,71.8 L202.0,72.3 L204.0,72.7 L206.0,73.2 L208.0,73.7 L210.0,74.2 L212.0,74.6 L214.0,75.1 L216.0,75.6 L218.0,76.1 L220.0,76.6 L222.0,77.1 L224.0,77.6 L226.0,78.1 L228.0,78.6 L230.0,79.1 L232.0,79.6 L234.0,80.1 L236.0,80.7 L238.0,81.2 L240.0,81.7 L242.0,82.3 L244.0,82.8 L246.0,83.3 L248.0,83.9 L250.0,84.4 L252.0,85.0 L254.0,85.5 L256.0,86.1 L258.0,86.7 L260.0,87.3 L262.0,87.8 L264.0,88.4 L266.0,89.0 L268.0,89.7 L270.0,90.3 L272.0,90.9 L274.0,91.6 L276.0,92.2 L278.0,92.9 L280.0,93.6 L282.0,94.3 L284.0,95.1 L286.0,95.8 L288.0,96.6 L290.0,97.4 L292.0,98.2 L294.0,99.0 L296.0,99.8 L298.0,100.7 L300.0,101.5 L302.0,102.4 L304.0,103.3 L306.0,104.1 L308.0,105.0 L310.0,105.9 L312.0,106.7 L314.0,107.6 L316.0,108.5 L318.0,109.3 L320.0,110.2 L322.0,111.0 L324.0,111.8 L326.0,112.6 L328.0,113.4 L330.0,114.2 L332.0,114.9 L334.0,115.7 L336.0,116.5 L338.0,117.2 L340.0,118.1 L342.0,118.9 L344.0,119.8 L346.0,120.7 L348.0,121.6 L350.0,122.7 L352.0,123.7 L354.0,124.9 L356.0,126.1 L358.0,127.3 L360.0,128.7 L362.0,130.0 L364.0,131.4 L366.0,132.9 L368.0,134.4 L370.0,135.9 L372.0,137.5 L374.0,139.1 L376.0,140.7 L378.0,142.4 L380.0,144.1 L382.0,145.8 L384.0,147.5 L386.0,149.3 L388.0,151.1 L390.0,152.9 L392.0,154.7 L394.0,156.5 L396.0,158.4 L398.0,160.2 L400.0,162.1 L402.0,164.0 L404.0,165.9 L406.0,167.8 L408.0,169.8 L410.0,171.7 L412.0,173.6 L414.0,175.6 L416.0,177.5 L418.0,179.5 L420.0,181.5 L422.0,183.4 L424.0,185.4 L426.0,187.4 L428.0,189.4 L430.0,191.4 L432.0,193.4 L434.0,195.4 L436.0,197.4 L438.0,199.4 L440.0,201.4 L442.0,203.4 L444.0,205.4 L446.0,207.4 L448.0,209.4 L450.0,211.4 L452.0,213.4 L454.0,215.4 L456.0,217.4 L458.0,219.3 L460.0,221.3 L462.0,223.3 L464.0,225.3 L466.0,227.2 L468.0,229.1 L470.0,231.0 L472.0,232.9 L474.0,234.7 L476.0,236.5 L478.0,238.2 L480.0,239.9 L482.0,241.6 L484.0,243.2 L486.0,244.7 L488.0,246.2 L490.0,247.6 L492.0,249.0 L494.0,250.3 L496.0,251.6 L498.0,252.8 L500.0,254.0 L502.0,255.2 L504.0,256.4 L506.0,257.5 L508.0,258.6 L510.0,259.7 L512.0,260.7 L514.0,261.8 L516.0,262.9 L518.0,264.0 L520.0,265.0 L522.0,266.1 L524.0,267.2 L526.0,268.3 L528.0,269.3 L530.0,270.4 L532.0,271.5 L534.0,272.6 L536.0,273.7 L538.0,274.8 L540.0,275.9 L542.0,277.0 L544.0,278.1 L546.0,279.2 L548.0,280.4 L550.0,281.5 L552.0,282.6 L554.0,283.7 L556.0,284.8 L558.0,286.0 L560.0,287.1 L562.0,288.2 L564.0,289.3 L566.0,290.5 L568.0,291.6 L570.0,292.7 L572.0,293.9 L574.0,295.0 L576.0,296.1 L578.0,297.3 L580.0,298.4 L582.0,299.5 L584.0,300.7 L586.0,301.8 L588.0,302.9 L590.0,304.1 L592.0,305.2 L594.0,306.4 L596.0,307.5 L598.0,308.6 L600.0,309.8 L602.0,310.9 L604.0,312.0 L606.0,313.2 L608.0,314.3 L610.0,315.4 L612.0,316.5 L614.0,317.7 L616.0,318.8 L618.0,319.9 L620.0,321.0 L622.0,322.1 L624.0,323.3 L626.0,324.4 L628.0,325.5 L630.0,326.6 L632.0,327.7 L634.0,328.9 L636.0,330.0 L638.0,331.1 L640.0,332.2 L642.0,333.4 L644.0,334.5 L646.0,335.6 L648.0,336.8 L650.0,337.9 L652.0,339.0 L654.0,340.2 L656.0,341.3 L658.0,342.5 L660.0,343.7 L662.0,344.8 L664.0,346.0 L666.0,347.2 L668.0,348.4 L670.0,349.6 L672.0,350.8 L674.0,352.0 L676.0,353.2 L678.0,354.4 L680.0,355.7 L682.0,356.9 L684.0,358.2 L686.0,359.5 L688.0,360.7 L690.0,362.0 L692.0,363.3 L694.0,364.6 L696.0,365.9 L698.0,367.2 L700.0,368.5 L702.0,369.8 L704.0,371.2 L706.0,372.5 L708.0,373.8 L710.0,375.2 L712.0,376.5 L714.0,377.9 L716.0,379.2 L718.0,380.6 L720.0,381.9 L722.0,383.3 L724.0,384.6 L726.0,386.0 L728.0,387.4 L730.0,388.7 L732.0,390.1 L734.0,391.4 L736.0,392.8 L738.0,394.1 L740.0,395.5 L742.0,396.8 L744.0,398.2 L746.0,399.5 L748.0,400.9 L750.0,402.2 L752.0,403.6 L754.0,404.9 L756.0,406.2 L758.0,407.6 L760.0,408.9 L762.0,410.2 L764.0,411.5 L766.0,412.9 L768.0,414.2 L770.0,415.5 L772.0,416.9 L774.0,418.2 L776.0,419.5 L778.0,420.9 L780.0,422.2 L782.0,423.6 L784.0,424.9 L786.0,426.2 L788.0,427.6 L790.0,428.9 L792.0,430.3 L794.0,431.6 L796.0,433.0 L798.0,434.4 L800.0,435.7 L802.0,437.1 L804.0,438.5 L806.0,439.9 L808.0,441.2 L810.0,442.6 L812.0,444.0 L814.0,445.4 L816.0,446.9 L818.0,448.3" fill="none" stroke="#0000ff" stroke-width="2.7" stroke-linejoin="round" stroke-dasharray="23.4 14.1"/>
</g>
<rect x="64.6" y="115.0" width="315.79999999999995" height="338.2" fill="#fff" stroke="#262626" stroke-width="1.4"/>
<path d="M73.9,132.3H144.5" stroke="#00ff00" stroke-width="2.7" fill="none"/>
<text x="151.2" y="140.6" class="l">O(1/k)</text>
<path d="M73.9,162.2H144.5" stroke="#00ff00" stroke-width="2.7" fill="none" stroke-dasharray="23.4 14.1"/>
<text x="152.1" y="173.8" class="l">O(1/k<tspan dy="-9.4" dx="0.2" class="ls">2</tspan><tspan dy="9.4" dx="1.6">)</tspan></text>
<path d="M73.9,192.5H144.5" stroke="#000000" stroke-width="2.7" fill="none"/>
<text x="151.2" y="200.8" class="l">Condat-Vu</text>
<path d="M73.9,219.5H144.5" stroke="#000000" stroke-width="2.7" fill="none" stroke-dasharray="18.75 7.05 4.65 7.05"/>
<text x="151.2" y="227.8" class="l">Condat-Vu ergodic</text>
<path d="M73.9,246.5H144.5" stroke="#000000" stroke-width="2.7" fill="none" stroke-dasharray="23.4 14.1"/>
<text x="151.2" y="254.8" class="l">accelerated Condat-Vu</text>
<path d="M73.9,273.4H144.5" stroke="#ff0000" stroke-width="2.7" fill="none"/>
<text x="151.2" y="281.7" class="l">PDDY</text>
<path d="M73.9,300.5H144.5" stroke="#ff00ff" stroke-width="2.7" fill="none"/>
<text x="151.2" y="308.8" class="l">PDDY xR</text>
<path d="M73.9,327.4H144.5" stroke="#ff0000" stroke-width="2.7" fill="none" stroke-dasharray="18.75 7.05 4.65 7.05"/>
<text x="151.2" y="335.7" class="l">PDDY ergodic</text>
<path d="M73.9,354.3H144.5" stroke="#ff0000" stroke-width="2.7" fill="none" stroke-dasharray="23.4 14.1"/>
<text x="151.2" y="362.6" class="l">accelerated PDDY</text>
<path d="M73.9,381.3H144.5" stroke="#0000ff" stroke-width="2.7" fill="none"/>
<text x="151.2" y="389.6" class="l">PD3O</text>
<path d="M73.9,408.3H144.5" stroke="#0000ff" stroke-width="2.7" fill="none" stroke-dasharray="18.75 7.05 4.65 7.05"/>
<text x="151.2" y="416.6" class="l">PD3O ergodic</text>
<path d="M73.9,435.2H144.5" stroke="#0000ff" stroke-width="2.7" fill="none" stroke-dasharray="23.4 14.1"/>
<text x="151.2" y="443.5" class="l">accelerated PD3O</text>
<text x="26.5" y="509.8" class="t">10<tspan dy="-11.5" dx="0.6" class="e">0</tspan></text>
<text x="198.9" y="509.8" class="t">10<tspan dy="-11.5" dx="0.6" class="e">1</tspan></text>
<text x="371.4" y="509.8" class="t">10<tspan dy="-11.5" dx="0.6" class="e">2</tspan></text>
<text x="543.8" y="509.8" class="t">10<tspan dy="-11.5" dx="0.6" class="e">3</tspan></text>
<text x="716.2" y="509.8" class="t">10<tspan dy="-11.5" dx="0.6" class="e">4</tspan></text>
<text x="-3.4" y="91.5" class="t">10<tspan dy="-11" dx="1.4" class="e">5</tspan></text>
<text x="-3.4" y="286.7" class="t">10<tspan dy="-11" dx="1.4" class="e">0</tspan></text>
<path d="M1029.40,469.6v-4.6M1029.40,0.95v4.6M1059.76,469.6v-4.6M1059.76,0.95v4.6M1081.30,469.6v-4.6M1081.30,0.95v4.6M1098.01,469.6v-4.6M1098.01,0.95v4.6M1111.66,469.6v-4.6M1111.66,0.95v4.6M1123.20,469.6v-4.6M1123.20,0.95v4.6M1133.20,469.6v-4.6M1133.20,0.95v4.6M1142.02,469.6v-4.6M1142.02,0.95v4.6M1149.91,469.6v-8.4M1149.91,0.95v8.4M1201.81,469.6v-4.6M1201.81,0.95v4.6M1232.17,469.6v-4.6M1232.17,0.95v4.6M1253.71,469.6v-4.6M1253.71,0.95v4.6M1270.42,469.6v-4.6M1270.42,0.95v4.6M1284.07,469.6v-4.6M1284.07,0.95v4.6M1295.61,469.6v-4.6M1295.61,0.95v4.6M1305.61,469.6v-4.6M1305.61,0.95v4.6M1314.43,469.6v-4.6M1314.43,0.95v4.6M1322.32,469.6v-8.4M1322.32,0.95v8.4M1374.22,469.6v-4.6M1374.22,0.95v4.6M1404.58,469.6v-4.6M1404.58,0.95v4.6M1426.12,469.6v-4.6M1426.12,0.95v4.6M1442.83,469.6v-4.6M1442.83,0.95v4.6M1456.48,469.6v-4.6M1456.48,0.95v4.6M1468.02,469.6v-4.6M1468.02,0.95v4.6M1478.02,469.6v-4.6M1478.02,0.95v4.6M1486.84,469.6v-4.6M1486.84,0.95v4.6M1494.73,469.6v-8.4M1494.73,0.95v8.4M1546.63,469.6v-4.6M1546.63,0.95v4.6M1576.99,469.6v-4.6M1576.99,0.95v4.6M1598.53,469.6v-4.6M1598.53,0.95v4.6M1615.24,469.6v-4.6M1615.24,0.95v4.6M1628.89,469.6v-4.6M1628.89,0.95v4.6M1640.43,469.6v-4.6M1640.43,0.95v4.6M1650.43,469.6v-4.6M1650.43,0.95v4.6M1659.25,469.6v-4.6M1659.25,0.95v4.6M1667.14,469.6v-8.4M1667.14,0.95v8.4M1719.04,469.6v-4.6M1719.04,0.95v4.6M1749.40,469.6v-4.6M1749.40,0.95v4.6M977.5,438.36h4.6M1749.4,438.36h-4.6M977.5,407.11h8.4M1749.4,407.11h-8.4M977.5,375.87h4.6M1749.4,375.87h-4.6M977.5,344.63h4.6M1749.4,344.63h-4.6M977.5,313.38h4.6M1749.4,313.38h-4.6M977.5,282.14h4.6M1749.4,282.14h-4.6M977.5,250.90h8.4M1749.4,250.90h-8.4M977.5,219.65h4.6M1749.4,219.65h-4.6M977.5,188.41h4.6M1749.4,188.41h-4.6M977.5,157.17h4.6M1749.4,157.17h-4.6M977.5,125.92h4.6M1749.4,125.92h-4.6M977.5,94.68h8.4M1749.4,94.68h-8.4M977.5,63.44h4.6M1749.4,63.44h-4.6M977.5,32.19h4.6M1749.4,32.19h-4.6" stroke="#1e1e1e" stroke-width="1.5" fill="none"/>
<rect x="977.5" y="1.2" width="771.9000000000001" height="468.40000000000003" fill="none" stroke="#1e1e1e" stroke-width="1.6"/>
<g clip-path="url(#c2)">
<path d="M977.5,63.4 L981.4,64.1 L985.3,64.8 L989.1,65.5 L993.0,66.2 L996.9,67.0 L1000.8,67.7 L1004.7,68.4 L1008.5,69.1 L1012.4,69.8 L1016.3,70.5 L1020.2,71.2 L1024.0,71.9 L1027.9,72.6 L1031.8,73.3 L1035.7,74.0 L1039.6,74.7 L1043.4,75.4 L1047.3,76.1 L1051.2,76.8 L1055.1,77.5 L1059.0,78.2 L1062.8,78.9 L1066.7,79.6 L1070.6,80.3 L1074.5,81.0 L1078.4,81.7 L1082.2,82.4 L1086.1,83.1 L1090.0,83.8 L1093.9,84.5 L1097.7,85.2 L1101.6,85.9 L1105.5,86.6 L1109.4,87.3 L1113.3,88.0 L1117.1,88.7 L1121.0,89.4 L1124.9,90.1 L1128.8,90.9 L1132.7,91.6 L1136.5,92.3 L1140.4,93.0 L1144.3,93.7 L1148.2,94.4 L1152.1,95.1 L1155.9,95.8 L1159.8,96.5 L1163.7,97.2 L1167.6,97.9 L1171.4,98.6 L1175.3,99.3 L1179.2,100.0 L1183.1,100.7 L1187.0,101.4 L1190.8,102.1 L1194.7,102.8 L1198.6,103.5 L1202.5,104.2 L1206.4,104.9 L1210.2,105.6 L1214.1,106.3 L1218.0,107.0 L1221.9,107.7 L1225.7,108.4 L1229.6,109.1 L1233.5,109.8 L1237.4,110.5 L1241.3,111.2 L1245.1,111.9 L1249.0,112.6 L1252.9,113.3 L1256.8,114.0 L1260.7,114.7 L1264.5,115.5 L1268.4,116.2 L1272.3,116.9 L1276.2,117.6 L1280.1,118.3 L1283.9,119.0 L1287.8,119.7 L1291.7,120.4 L1295.6,121.1 L1299.4,121.8 L1303.3,122.5 L1307.2,123.2 L1311.1,123.9 L1315.0,124.6 L1318.8,125.3 L1322.7,126.0 L1326.6,126.7 L1330.5,127.4 L1334.4,128.1 L1338.2,128.8 L1342.1,129.5 L1346.0,130.2 L1349.9,130.9 L1353.8,131.6 L1357.6,132.3 L1361.5,133.0 L1365.4,133.7 L1369.3,134.4 L1373.1,135.1 L1377.0,135.8 L1380.9,136.5 L1384.8,137.2 L1388.7,137.9 L1392.5,138.6 L1396.4,139.4 L1400.3,140.1 L1404.2,140.8 L1408.1,141.5 L1411.9,142.2 L1415.8,142.9 L1419.7,143.6 L1423.6,144.3 L1427.5,145.0 L1431.3,145.7 L1435.2,146.4 L1439.1,147.1 L1443.0,147.8 L1446.8,148.5 L1450.7,149.2 L1454.6,149.9 L1458.5,150.6 L1462.4,151.3 L1466.2,152.0 L1470.1,152.7 L1474.0,153.4 L1477.9,154.1 L1481.8,154.8 L1485.6,155.5 L1489.5,156.2 L1493.4,156.9 L1497.3,157.6 L1501.2,158.3 L1505.0,159.0 L1508.9,159.7 L1512.8,160.4 L1516.7,161.1 L1520.5,161.8 L1524.4,162.5 L1528.3,163.3 L1532.2,164.0 L1536.1,164.7 L1539.9,165.4 L1543.8,166.1 L1547.7,166.8 L1551.6,167.5 L1555.5,168.2 L1559.3,168.9 L1563.2,169.6 L1567.1,170.3 L1571.0,171.0 L1574.8,171.7 L1578.7,172.4 L1582.6,173.1 L1586.5,173.8 L1590.4,174.5 L1594.2,175.2 L1598.1,175.9 L1602.0,176.6 L1605.9,177.3 L1609.8,178.0 L1613.6,178.7 L1617.5,179.4 L1621.4,180.1 L1625.3,180.8 L1629.2,181.5 L1633.0,182.2 L1636.9,182.9 L1640.8,183.6 L1644.7,184.3 L1648.5,185.0 L1652.4,185.7 L1656.3,186.4 L1660.2,187.1 L1664.1,187.9 L1667.9,188.6 L1671.8,189.3 L1675.7,190.0 L1679.6,190.7 L1683.5,191.4 L1687.3,192.1 L1691.2,192.8 L1695.1,193.5 L1699.0,194.2 L1702.9,194.9 L1706.7,195.6 L1710.6,196.3 L1714.5,197.0 L1718.4,197.7 L1722.2,198.4 L1726.1,199.1 L1730.0,199.8 L1733.9,200.5 L1737.8,201.2 L1741.6,201.9 L1745.5,202.6 L1749.4,203.3" fill="none" stroke="#00ff00" stroke-width="2.7" stroke-linejoin="round"/>
<path d="M977.5,0.9 L981.4,2.4 L985.3,3.8 L989.1,5.2 L993.0,6.6 L996.9,8.0 L1000.8,9.4 L1004.7,10.8 L1008.5,12.2 L1012.4,13.6 L1016.3,15.0 L1020.2,16.4 L1024.0,17.8 L1027.9,19.2 L1031.8,20.6 L1035.7,22.0 L1039.6,23.4 L1043.4,24.8 L1047.3,26.3 L1051.2,27.7 L1055.1,29.1 L1059.0,30.5 L1062.8,31.9 L1066.7,33.3 L1070.6,34.7 L1074.5,36.1 L1078.4,37.5 L1082.2,38.9 L1086.1,40.3 L1090.0,41.7 L1093.9,43.1 L1097.7,44.5 L1101.6,45.9 L1105.5,47.3 L1109.4,48.7 L1113.3,50.2 L1117.1,51.6 L1121.0,53.0 L1124.9,54.4 L1128.8,55.8 L1132.7,57.2 L1136.5,58.6 L1140.4,60.0 L1144.3,61.4 L1148.2,62.8 L1152.1,64.2 L1155.9,65.6 L1159.8,67.0 L1163.7,68.4 L1167.6,69.8 L1171.4,71.2 L1175.3,72.6 L1179.2,74.1 L1183.1,75.5 L1187.0,76.9 L1190.8,78.3 L1194.7,79.7 L1198.6,81.1 L1202.5,82.5 L1206.4,83.9 L1210.2,85.3 L1214.1,86.7 L1218.0,88.1 L1221.9,89.5 L1225.7,90.9 L1229.6,92.3 L1233.5,93.7 L1237.4,95.1 L1241.3,96.5 L1245.1,98.0 L1249.0,99.4 L1252.9,100.8 L1256.8,102.2 L1260.7,103.6 L1264.5,105.0 L1268.4,106.4 L1272.3,107.8 L1276.2,109.2 L1280.1,110.6 L1283.9,112.0 L1287.8,113.4 L1291.7,114.8 L1295.6,116.2 L1299.4,117.6 L1303.3,119.0 L1307.2,120.4 L1311.1,121.9 L1315.0,123.3 L1318.8,124.7 L1322.7,126.1 L1326.6,127.5 L1330.5,128.9 L1334.4,130.3 L1338.2,131.7 L1342.1,133.1 L1346.0,134.5 L1349.9,135.9 L1353.8,137.3 L1357.6,138.7 L1361.5,140.1 L1365.4,141.5 L1369.3,142.9 L1373.1,144.3 L1377.0,145.8 L1380.9,147.2 L1384.8,148.6 L1388.7,150.0 L1392.5,151.4 L1396.4,152.8 L1400.3,154.2 L1404.2,155.6 L1408.1,157.0 L1411.9,158.4 L1415.8,159.8 L1419.7,161.2 L1423.6,162.6 L1427.5,164.0 L1431.3,165.4 L1435.2,166.8 L1439.1,168.2 L1443.0,169.6 L1446.8,171.1 L1450.7,172.5 L1454.6,173.9 L1458.5,175.3 L1462.4,176.7 L1466.2,178.1 L1470.1,179.5 L1474.0,180.9 L1477.9,182.3 L1481.8,183.7 L1485.6,185.1 L1489.5,186.5 L1493.4,187.9 L1497.3,189.3 L1501.2,190.7 L1505.0,192.1 L1508.9,193.5 L1512.8,195.0 L1516.7,196.4 L1520.5,197.8 L1524.4,199.2 L1528.3,200.6 L1532.2,202.0 L1536.1,203.4 L1539.9,204.8 L1543.8,206.2 L1547.7,207.6 L1551.6,209.0 L1555.5,210.4 L1559.3,211.8 L1563.2,213.2 L1567.1,214.6 L1571.0,216.0 L1574.8,217.4 L1578.7,218.9 L1582.6,220.3 L1586.5,221.7 L1590.4,223.1 L1594.2,224.5 L1598.1,225.9 L1602.0,227.3 L1605.9,228.7 L1609.8,230.1 L1613.6,231.5 L1617.5,232.9 L1621.4,234.3 L1625.3,235.7 L1629.2,237.1 L1633.0,238.5 L1636.9,239.9 L1640.8,241.3 L1644.7,242.8 L1648.5,244.2 L1652.4,245.6 L1656.3,247.0 L1660.2,248.4 L1664.1,249.8 L1667.9,251.2 L1671.8,252.6 L1675.7,254.0 L1679.6,255.4 L1683.5,256.8 L1687.3,258.2 L1691.2,259.6 L1695.1,261.0 L1699.0,262.4 L1702.9,263.8 L1706.7,265.2 L1710.6,266.7 L1714.5,268.1 L1718.4,269.5 L1722.2,270.9 L1726.1,272.3 L1730.0,273.7 L1733.9,275.1 L1737.8,276.5 L1741.6,277.9 L1745.5,279.3 L1749.4,280.7" fill="none" stroke="#00ff00" stroke-width="2.7" stroke-linejoin="round" stroke-dasharray="23.4 14.1"/>
<path d="M977.5,20.0 L979.5,20.1 L981.5,20.2 L983.5,20.4 L985.5,20.5 L987.5,20.7 L989.5,20.8 L991.5,20.9 L993.5,21.1 L995.5,21.2 L997.5,21.3 L999.6,21.5 L1001.6,21.6 L1003.6,21.7 L1005.6,21.9 L1007.6,22.0 L1009.6,22.1 L1011.6,22.2 L1013.6,22.4 L1015.6,22.5 L1017.6,22.6 L1019.6,22.7 L1021.6,22.9 L1023.6,23.0 L1025.6,23.1 L1027.6,23.2 L1029.6,23.3 L1031.6,23.5 L1033.6,23.6 L1035.6,23.7 L1037.6,23.8 L1039.7,24.0 L1041.7,24.1 L1043.7,24.2 L1045.7,24.3 L1047.7,24.4 L1049.7,24.6 L1051.7,24.7 L1053.7,24.8 L1055.7,25.0 L1057.7,25.1 L1059.7,25.2 L1061.7,25.3 L1063.7,25.5 L1065.7,25.6 L1067.7,25.7 L1069.7,25.9 L1071.7,26.0 L1073.7,26.1 L1075.7,26.3 L1077.7,26.4 L1079.8,26.6 L1081.8,26.7 L1083.8,26.9 L1085.8,27.0 L1087.8,27.2 L1089.8,27.3 L1091.8,27.5 L1093.8,27.6 L1095.8,27.8 L1097.8,28.0 L1099.8,28.1 L1101.8,28.3 L1103.8,28.5 L1105.8,28.6 L1107.8,28.8 L1109.8,29.0 L1111.8,29.2 L1113.8,29.4 L1115.8,29.6 L1117.8,29.7 L1119.9,29.9 L1121.9,30.1 L1123.9,30.3 L1125.9,30.5 L1127.9,30.7 L1129.9,31.0 L1131.9,31.2 L1133.9,31.4 L1135.9,31.6 L1137.9,31.8 L1139.9,32.1 L1141.9,32.3 L1143.9,32.6 L1145.9,32.8 L1147.9,33.0 L1149.9,33.3 L1151.9,33.6 L1153.9,33.8 L1155.9,34.1 L1157.9,34.3 L1159.9,34.6 L1162.0,34.9 L1164.0,35.2 L1166.0,35.5 L1168.0,35.8 L1170.0,36.1 L1172.0,36.4 L1174.0,36.7 L1176.0,37.0 L1178.0,37.3 L1180.0,37.6 L1182.0,38.0 L1184.0,38.3 L1186.0,38.7 L1188.0,39.0 L1190.0,39.4 L1192.0,39.7 L1194.0,40.1 L1196.0,40.5 L1198.0,40.8 L1200.0,41.2 L1202.1,41.6 L1204.1,42.0 L1206.1,42.5 L1208.1,42.9 L1210.1,43.3 L1212.1,43.8 L1214.1,44.2 L1216.1,44.7 L1218.1,45.2 L1220.1,45.7 L1222.1,46.2 L1224.1,46.7 L1226.1,47.2 L1228.1,47.8 L1230.1,48.4 L1232.1,49.0 L1234.1,49.6 L1236.1,50.2 L1238.1,50.8 L1240.1,51.5 L1242.2,52.1 L1244.2,52.8 L1246.2,53.5 L1248.2,54.3 L1250.2,55.0 L1252.2,55.8 L1254.2,56.6 L1256.2,57.4 L1258.2,58.2 L1260.2,59.1 L1262.2,60.0 L1264.2,60.9 L1266.2,61.8 L1268.2,62.8 L1270.2,63.8 L1272.2,64.8 L1274.2,65.8 L1276.2,66.9 L1278.2,67.9 L1280.2,69.0 L1282.3,70.2 L1284.3,71.3 L1286.3,72.5 L1288.3,73.7 L1290.3,74.9 L1292.3,76.1 L1294.3,77.4 L1296.3,78.7 L1298.3,80.0 L1300.3,81.3 L1302.3,82.7 L1304.3,84.1 L1306.3,85.5 L1308.3,86.9 L1310.3,88.4 L1312.3,89.9 L1314.3,91.4 L1316.3,92.9 L1318.3,94.5 L1320.3,96.1 L1322.3,97.7 L1324.4,99.3 L1326.4,101.0 L1328.4,102.6 L1330.4,104.3 L1332.4,106.1 L1334.4,107.8 L1336.4,109.6 L1338.4,111.4 L1340.4,113.2 L1342.4,115.1 L1344.4,116.9 L1346.4,118.8 L1348.4,120.8 L1350.4,122.7 L1352.4,124.7 L1354.4,126.7 L1356.4,128.7 L1358.4,130.7 L1360.4,132.8 L1362.4,134.9 L1364.5,137.0 L1366.5,139.2 L1368.5,141.3 L1370.5,143.4 L1372.5,145.5 L1374.5,147.6 L1376.5,149.6 L1378.5,151.6 L1380.5,153.5 L1382.5,155.3 L1384.5,157.0 L1386.5,158.6 L1388.5,160.1 L1390.5,161.5 L1392.5,162.9 L1394.5,164.1 L1396.5,165.3 L1398.5,166.4 L1400.5,167.4 L1402.5,168.4 L1404.6,169.3 L1406.6,170.2 L1408.6,171.1 L1410.6,171.9 L1412.6,172.7 L1414.6,173.5 L1416.6,174.3 L1418.6,175.1 L1420.6,175.9 L1422.6,176.6 L1424.6,177.4 L1426.6,178.2 L1428.6,179.0 L1430.6,179.7 L1432.6,180.5 L1434.6,181.3 L1436.6,182.1 L1438.6,182.9 L1440.6,183.7 L1442.6,184.5 L1444.6,185.3 L1446.7,186.1 L1448.7,186.9 L1450.7,187.7 L1452.7,188.6 L1454.7,189.4 L1456.7,190.2 L1458.7,191.0 L1460.7,191.9 L1462.7,192.7 L1464.7,193.5 L1466.7,194.4 L1468.7,195.2 L1470.7,196.1 L1472.7,196.9 L1474.7,197.8 L1476.7,198.7 L1478.7,199.5 L1480.7,200.4 L1482.7,201.3 L1484.7,202.1 L1486.8,203.0 L1488.8,203.9 L1490.8,204.8 L1492.8,205.7 L1494.8,206.6 L1496.8,207.5 L1498.8,208.4 L1500.8,209.3 L1502.8,210.2 L1504.8,211.1 L1506.8,212.0 L1508.8,212.9 L1510.8,213.9 L1512.8,214.8 L1514.8,215.7 L1516.8,216.6 L1518.8,217.6 L1520.8,218.5 L1522.8,219.4 L1524.8,220.4 L1526.9,221.3 L1528.9,222.2 L1530.9,223.2 L1532.9,224.1 L1534.9,225.0 L1536.9,226.0 L1538.9,226.9 L1540.9,227.9 L1542.9,228.8 L1544.9,229.8 L1546.9,230.7 L1548.9,231.6 L1550.9,232.6 L1552.9,233.5 L1554.9,234.5 L1556.9,235.4 L1558.9,236.3 L1560.9,237.3 L1562.9,238.2 L1564.9,239.1 L1567.0,240.1 L1569.0,241.0 L1571.0,241.9 L1573.0,242.9 L1575.0,243.8 L1577.0,244.7 L1579.0,245.7 L1581.0,246.6 L1583.0,247.5 L1585.0,248.4 L1587.0,249.3 L1589.0,250.2 L1591.0,251.2 L1593.0,252.1 L1595.0,253.0 L1597.0,253.9 L1599.0,254.8 L1601.0,255.6 L1603.0,256.5 L1605.0,257.4 L1607.0,258.3 L1609.1,259.2 L1611.1,260.1 L1613.1,260.9 L1615.1,261.8 L1617.1,262.7 L1619.1,263.5 L1621.1,264.4 L1623.1,265.3 L1625.1,266.1 L1627.1,267.0 L1629.1,267.8 L1631.1,268.7 L1633.1,269.5 L1635.1,270.3 L1637.1,271.2 L1639.1,272.0 L1641.1,272.8 L1643.1,273.7 L1645.1,274.5 L1647.1,275.3 L1649.2,276.1 L1651.2,276.9 L1653.2,277.8 L1655.2,278.6 L1657.2,279.4 L1659.2,280.2 L1661.2,281.0 L1663.2,281.8 L1665.2,282.6 L1667.2,283.4 L1669.2,284.1 L1671.2,284.9 L1673.2,285.7 L1675.2,286.5 L1677.2,287.3 L1679.2,288.0 L1681.2,288.8 L1683.2,289.6 L1685.2,290.3 L1687.2,291.1 L1689.3,291.8 L1691.3,292.6 L1693.3,293.3 L1695.3,294.1 L1697.3,294.8 L1699.3,295.6 L1701.3,296.3 L1703.3,297.0 L1705.3,297.8 L1707.3,298.5 L1709.3,299.2 L1711.3,299.9 L1713.3,300.7 L1715.3,301.4 L1717.3,302.1 L1719.3,302.8 L1721.3,303.5 L1723.3,304.2 L1725.3,304.9 L1727.3,305.6 L1729.4,306.3 L1731.4,307.0 L1733.4,307.7 L1735.4,308.4 L1737.4,309.1 L1739.4,309.7 L1741.4,310.4 L1743.4,311.1 L1745.4,311.8 L1747.4,312.4 L1749.4,313.1" fill="none" stroke="#000000" stroke-width="2.7" stroke-linejoin="round"/>
<path d="M977.5,15.5 L979.5,15.6 L981.5,15.7 L983.5,15.8 L985.5,15.9 L987.5,16.0 L989.5,16.1 L991.5,16.1 L993.5,16.2 L995.5,16.3 L997.5,16.4 L999.6,16.5 L1001.6,16.6 L1003.6,16.7 L1005.6,16.8 L1007.6,16.9 L1009.6,16.9 L1011.6,17.0 L1013.6,17.1 L1015.6,17.2 L1017.6,17.3 L1019.6,17.4 L1021.6,17.5 L1023.6,17.5 L1025.6,17.6 L1027.6,17.7 L1029.6,17.8 L1031.6,17.9 L1033.6,18.0 L1035.6,18.0 L1037.6,18.1 L1039.7,18.2 L1041.7,18.3 L1043.7,18.4 L1045.7,18.5 L1047.7,18.5 L1049.7,18.6 L1051.7,18.7 L1053.7,18.8 L1055.7,18.9 L1057.7,19.0 L1059.7,19.0 L1061.7,19.1 L1063.7,19.2 L1065.7,19.3 L1067.7,19.4 L1069.7,19.5 L1071.7,19.6 L1073.7,19.6 L1075.7,19.7 L1077.7,19.8 L1079.8,19.9 L1081.8,20.0 L1083.8,20.1 L1085.8,20.2 L1087.8,20.3 L1089.8,20.4 L1091.8,20.5 L1093.8,20.5 L1095.8,20.6 L1097.8,20.7 L1099.8,20.8 L1101.8,20.9 L1103.8,21.0 L1105.8,21.1 L1107.8,21.2 L1109.8,21.3 L1111.8,21.4 L1113.8,21.5 L1115.8,21.6 L1117.8,21.7 L1119.9,21.8 L1121.9,21.9 L1123.9,22.1 L1125.9,22.2 L1127.9,22.3 L1129.9,22.4 L1131.9,22.5 L1133.9,22.6 L1135.9,22.7 L1137.9,22.8 L1139.9,23.0 L1141.9,23.1 L1143.9,23.2 L1145.9,23.3 L1147.9,23.5 L1149.9,23.6 L1151.9,23.7 L1153.9,23.8 L1155.9,24.0 L1157.9,24.1 L1159.9,24.2 L1162.0,24.4 L1164.0,24.5 L1166.0,24.7 L1168.0,24.8 L1170.0,24.9 L1172.0,25.1 L1174.0,25.2 L1176.0,25.4 L1178.0,25.5 L1180.0,25.7 L1182.0,25.8 L1184.0,26.0 L1186.0,26.2 L1188.0,26.3 L1190.0,26.5 L1192.0,26.7 L1194.0,26.8 L1196.0,27.0 L1198.0,27.2 L1200.0,27.3 L1202.1,27.5 L1204.1,27.7 L1206.1,27.9 L1208.1,28.1 L1210.1,28.3 L1212.1,28.4 L1214.1,28.6 L1216.1,28.8 L1218.1,29.0 L1220.1,29.2 L1222.1,29.4 L1224.1,29.6 L1226.1,29.9 L1228.1,30.1 L1230.1,30.3 L1232.1,30.5 L1234.1,30.7 L1236.1,31.0 L1238.1,31.2 L1240.1,31.4 L1242.2,31.7 L1244.2,31.9 L1246.2,32.2 L1248.2,32.4 L1250.2,32.7 L1252.2,32.9 L1254.2,33.2 L1256.2,33.5 L1258.2,33.7 L1260.2,34.0 L1262.2,34.3 L1264.2,34.6 L1266.2,34.9 L1268.2,35.2 L1270.2,35.5 L1272.2,35.8 L1274.2,36.1 L1276.2,36.5 L1278.2,36.8 L1280.2,37.1 L1282.3,37.5 L1284.3,37.8 L1286.3,38.2 L1288.3,38.6 L1290.3,38.9 L1292.3,39.3 L1294.3,39.7 L1296.3,40.1 L1298.3,40.5 L1300.3,40.9 L1302.3,41.3 L1304.3,41.8 L1306.3,42.2 L1308.3,42.6 L1310.3,43.1 L1312.3,43.5 L1314.3,44.0 L1316.3,44.5 L1318.3,45.0 L1320.3,45.4 L1322.3,45.9 L1324.4,46.4 L1326.4,47.0 L1328.4,47.5 L1330.4,48.0 L1332.4,48.6 L1334.4,49.1 L1336.4,49.7 L1338.4,50.3 L1340.4,50.8 L1342.4,51.4 L1344.4,52.0 L1346.4,52.6 L1348.4,53.2 L1350.4,53.9 L1352.4,54.5 L1354.4,55.2 L1356.4,55.8 L1358.4,56.5 L1360.4,57.1 L1362.4,57.8 L1364.5,58.5 L1366.5,59.2 L1368.5,59.9 L1370.5,60.7 L1372.5,61.4 L1374.5,62.1 L1376.5,62.9 L1378.5,63.6 L1380.5,64.4 L1382.5,65.2 L1384.5,66.0 L1386.5,66.8 L1388.5,67.6 L1390.5,68.4 L1392.5,69.2 L1394.5,70.1 L1396.5,70.9 L1398.5,71.8 L1400.5,72.6 L1402.5,73.5 L1404.6,74.4 L1406.6,75.3 L1408.6,76.2 L1410.6,77.1 L1412.6,78.1 L1414.6,79.0 L1416.6,80.0 L1418.6,80.9 L1420.6,81.9 L1422.6,82.9 L1424.6,83.9 L1426.6,84.9 L1428.6,85.9 L1430.6,86.9 L1432.6,87.9 L1434.6,89.0 L1436.6,90.0 L1438.6,91.1 L1440.6,92.2 L1442.6,93.3 L1444.6,94.4 L1446.7,95.5 L1448.7,96.6 L1450.7,97.7 L1452.7,98.8 L1454.7,100.0 L1456.7,101.1 L1458.7,102.3 L1460.7,103.5 L1462.7,104.6 L1464.7,105.8 L1466.7,107.0 L1468.7,108.2 L1470.7,109.4 L1472.7,110.7 L1474.7,111.9 L1476.7,113.1 L1478.7,114.4 L1480.7,115.6 L1482.7,116.9 L1484.7,118.2 L1486.8,119.4 L1488.8,120.7 L1490.8,122.0 L1492.8,123.3 L1494.8,124.6 L1496.8,126.0 L1498.8,127.3 L1500.8,128.6 L1502.8,129.9 L1504.8,131.3 L1506.8,132.6 L1508.8,134.0 L1510.8,135.4 L1512.8,136.7 L1514.8,138.1 L1516.8,139.5 L1518.8,140.9 L1520.8,142.3 L1522.8,143.7 L1524.8,145.1 L1526.9,146.5 L1528.9,147.9 L1530.9,149.3 L1532.9,150.8 L1534.9,152.2 L1536.9,153.6 L1538.9,155.1 L1540.9,156.5 L1542.9,158.0 L1544.9,159.4 L1546.9,160.9 L1548.9,162.4 L1550.9,163.9 L1552.9,165.3 L1554.9,166.8 L1556.9,168.3 L1558.9,169.8 L1560.9,171.3 L1562.9,172.8 L1564.9,174.3 L1567.0,175.8 L1569.0,177.3 L1571.0,178.8 L1573.0,180.3 L1575.0,181.8 L1577.0,183.4 L1579.0,184.9 L1581.0,186.4 L1583.0,188.0 L1585.0,189.5 L1587.0,191.0 L1589.0,192.6 L1591.0,194.1 L1593.0,195.6 L1595.0,197.2 L1597.0,198.7 L1599.0,200.3 L1601.0,201.8 L1603.0,203.4 L1605.0,205.0 L1607.0,206.5 L1609.1,208.1 L1611.1,209.6 L1613.1,211.2 L1615.1,212.8 L1617.1,214.3 L1619.1,215.9 L1621.1,217.5 L1623.1,219.0 L1625.1,220.6 L1627.1,222.2 L1629.1,223.7 L1631.1,225.3 L1633.1,226.9 L1635.1,228.5 L1637.1,230.0 L1639.1,231.6 L1641.1,233.2 L1643.1,234.8 L1645.1,236.3 L1647.1,237.9 L1649.2,239.5 L1651.2,241.1 L1653.2,242.7 L1655.2,244.2 L1657.2,245.8 L1659.2,247.4 L1661.2,249.0 L1663.2,250.6 L1665.2,252.2 L1667.2,253.8 L1669.2,255.3 L1671.2,256.9 L1673.2,258.5 L1675.2,260.1 L1677.2,261.7 L1679.2,263.3 L1681.2,264.9 L1683.2,266.5 L1685.2,268.1 L1687.2,269.7 L1689.3,271.3 L1691.3,272.9 L1693.3,274.5 L1695.3,276.1 L1697.3,277.7 L1699.3,279.3 L1701.3,280.9 L1703.3,282.5 L1705.3,284.1 L1707.3,285.7 L1709.3,287.3 L1711.3,288.9 L1713.3,290.5 L1715.3,292.1 L1717.3,293.7 L1719.3,295.3 L1721.3,296.9 L1723.3,298.5 L1725.3,300.1 L1727.3,301.7 L1729.4,303.3 L1731.4,304.9 L1733.4,306.5 L1735.4,308.1 L1737.4,309.7 L1739.4,311.3 L1741.4,313.0 L1743.4,314.6 L1745.4,316.2 L1747.4,317.8 L1749.4,319.4" fill="none" stroke="#000000" stroke-width="2.7" stroke-linejoin="round" stroke-dasharray="23.4 14.1"/>
<path d="M977.5,15.7 L979.5,15.8 L981.5,16.0 L983.5,16.1 L985.5,16.2 L987.5,16.3 L989.5,16.5 L991.5,16.6 L993.5,16.7 L995.5,16.9 L997.5,17.0 L999.6,17.1 L1001.6,17.3 L1003.6,17.4 L1005.6,17.6 L1007.6,17.7 L1009.6,17.9 L1011.6,18.0 L1013.6,18.2 L1015.6,18.3 L1017.6,18.5 L1019.6,18.6 L1021.6,18.8 L1023.6,19.0 L1025.6,19.1 L1027.6,19.3 L1029.6,19.5 L1031.6,19.6 L1033.6,19.8 L1035.6,20.0 L1037.6,20.2 L1039.7,20.3 L1041.7,20.5 L1043.7,20.7 L1045.7,20.9 L1047.7,21.1 L1049.7,21.2 L1051.7,21.4 L1053.7,21.6 L1055.7,21.8 L1057.7,22.0 L1059.7,22.2 L1061.7,22.4 L1063.7,22.5 L1065.7,22.7 L1067.7,22.9 L1069.7,23.1 L1071.7,23.3 L1073.7,23.5 L1075.7,23.7 L1077.7,23.9 L1079.8,24.1 L1081.8,24.3 L1083.8,24.5 L1085.8,24.7 L1087.8,24.9 L1089.8,25.1 L1091.8,25.3 L1093.8,25.5 L1095.8,25.6 L1097.8,25.8 L1099.8,26.0 L1101.8,26.2 L1103.8,26.4 L1105.8,26.6 L1107.8,26.8 L1109.8,27.0 L1111.8,27.2 L1113.8,27.4 L1115.8,27.6 L1117.8,27.8 L1119.9,28.0 L1121.9,28.2 L1123.9,28.5 L1125.9,28.7 L1127.9,28.9 L1129.9,29.1 L1131.9,29.3 L1133.9,29.5 L1135.9,29.8 L1137.9,30.0 L1139.9,30.2 L1141.9,30.5 L1143.9,30.7 L1145.9,30.9 L1147.9,31.2 L1149.9,31.4 L1151.9,31.7 L1153.9,31.9 L1155.9,32.2 L1157.9,32.5 L1159.9,32.8 L1162.0,33.0 L1164.0,33.3 L1166.0,33.6 L1168.0,33.9 L1170.0,34.2 L1172.0,34.5 L1174.0,34.8 L1176.0,35.2 L1178.0,35.5 L1180.0,35.8 L1182.0,36.2 L1184.0,36.5 L1186.0,36.9 L1188.0,37.2 L1190.0,37.6 L1192.0,38.0 L1194.0,38.4 L1196.0,38.8 L1198.0,39.2 L1200.0,39.6 L1202.1,40.0 L1204.1,40.5 L1206.1,40.9 L1208.1,41.4 L1210.1,41.8 L1212.1,42.3 L1214.1,42.8 L1216.1,43.3 L1218.1,43.8 L1220.1,44.3 L1222.1,44.8 L1224.1,45.4 L1226.1,45.9 L1228.1,46.5 L1230.1,47.1 L1232.1,47.7 L1234.1,48.3 L1236.1,48.9 L1238.1,49.5 L1240.1,50.2 L1242.2,50.9 L1244.2,51.6 L1246.2,52.3 L1248.2,53.0 L1250.2,53.8 L1252.2,54.6 L1254.2,55.4 L1256.2,56.2 L1258.2,57.0 L1260.2,57.9 L1262.2,58.8 L1264.2,59.7 L1266.2,60.6 L1268.2,61.6 L1270.2,62.5 L1272.2,63.6 L1274.2,64.6 L1276.2,65.6 L1278.2,66.7 L1280.2,67.9 L1282.3,69.0 L1284.3,70.2 L1286.3,71.4 L1288.3,72.6 L1290.3,73.8 L1292.3,75.1 L1294.3,76.4 L1296.3,77.7 L1298.3,79.0 L1300.3,80.4 L1302.3,81.8 L1304.3,83.2 L1306.3,84.6 L1308.3,86.0 L1310.3,87.5 L1312.3,88.9 L1314.3,90.4 L1316.3,91.9 L1318.3,93.4 L1320.3,95.0 L1322.3,96.6 L1324.4,98.3 L1326.4,100.0 L1328.4,101.8 L1330.4,103.6 L1332.4,105.5 L1334.4,107.5 L1336.4,109.5 L1338.4,111.6 L1340.4,113.7 L1342.4,115.9 L1344.4,118.2 L1346.4,120.5 L1348.4,122.8 L1350.4,125.2 L1352.4,127.6 L1354.4,130.0 L1356.4,132.5 L1358.4,135.0 L1360.4,137.5 L1362.4,140.0 L1364.5,142.6 L1366.5,145.2 L1368.5,147.9 L1370.5,150.7 L1372.5,153.6 L1374.5,156.6 L1376.5,159.6 L1378.5,162.8 L1380.5,166.0 L1382.5,169.4 L1384.5,172.7 L1386.5,176.2 L1388.5,179.7 L1390.5,183.3 L1392.5,186.9 L1394.5,190.6 L1396.5,194.3 L1398.5,198.0 L1400.5,201.6 L1402.5,205.3 L1404.6,208.9 L1406.6,212.4 L1408.6,215.8 L1410.6,219.1 L1412.6,222.2 L1414.6,225.2 L1416.6,227.8 L1418.6,230.3 L1420.6,232.5 L1422.6,234.5 L1424.6,236.2 L1426.6,237.7 L1428.6,239.1 L1430.6,240.4 L1432.6,241.5 L1434.6,242.6 L1436.6,243.7 L1438.6,244.7 L1440.6,245.7 L1442.6,246.7 L1444.6,247.7 L1446.7,248.7 L1448.7,249.7 L1450.7,250.6 L1452.7,251.6 L1454.7,252.5 L1456.7,253.5 L1458.7,254.4 L1460.7,255.3 L1462.7,256.2 L1464.7,257.1 L1466.7,258.0 L1468.7,258.9 L1470.7,259.8 L1472.7,260.7 L1474.7,261.6 L1476.7,262.5 L1478.7,263.4 L1480.7,264.3 L1482.7,265.1 L1484.7,266.0 L1486.8,266.9 L1488.8,267.7 L1490.8,268.6 L1492.8,269.4 L1494.8,270.3 L1496.8,271.1 L1498.8,272.0 L1500.8,272.8 L1502.8,273.7 L1504.8,274.5 L1506.8,275.3 L1508.8,276.1 L1510.8,277.0 L1512.8,277.8 L1514.8,278.6 L1516.8,279.4 L1518.8,280.2 L1520.8,281.0 L1522.8,281.8 L1524.8,282.6 L1526.9,283.4 L1528.9,284.2 L1530.9,285.0 L1532.9,285.8 L1534.9,286.6 L1536.9,287.4 L1538.9,288.1 L1540.9,288.9 L1542.9,289.7 L1544.9,290.5 L1546.9,291.2 L1548.9,292.0 L1550.9,292.8 L1552.9,293.5 L1554.9,294.3 L1556.9,295.0 L1558.9,295.8 L1560.9,296.5 L1562.9,297.3 L1564.9,298.0 L1567.0,298.8 L1569.0,299.5 L1571.0,300.3 L1573.0,301.0 L1575.0,301.8 L1577.0,302.5 L1579.0,303.2 L1581.0,303.9 L1583.0,304.7 L1585.0,305.4 L1587.0,306.1 L1589.0,306.9 L1591.0,307.6 L1593.0,308.3 L1595.0,309.0 L1597.0,309.7 L1599.0,310.5 L1601.0,311.2 L1603.0,311.9 L1605.0,312.6 L1607.0,313.3 L1609.1,314.0 L1611.1,314.7 L1613.1,315.4 L1615.1,316.1 L1617.1,316.8 L1619.1,317.5 L1621.1,318.2 L1623.1,318.9 L1625.1,319.6 L1627.1,320.3 L1629.1,321.0 L1631.1,321.7 L1633.1,322.4 L1635.1,323.1 L1637.1,323.8 L1639.1,324.5 L1641.1,325.2 L1643.1,325.9 L1645.1,326.6 L1647.1,327.3 L1649.2,328.0 L1651.2,328.7 L1653.2,329.4 L1655.2,330.1 L1657.2,330.8 L1659.2,331.4 L1661.2,332.1 L1663.2,332.8 L1665.2,333.5 L1667.2,334.2 L1669.2,334.9 L1671.2,335.6 L1673.2,336.3 L1675.2,337.0 L1677.2,337.7 L1679.2,338.3 L1681.2,339.0 L1683.2,339.7 L1685.2,340.4 L1687.2,341.1 L1689.3,341.8 L1691.3,342.5 L1693.3,343.2 L1695.3,343.9 L1697.3,344.6 L1699.3,345.3 L1701.3,345.9 L1703.3,346.6 L1705.3,347.3 L1707.3,348.0 L1709.3,348.7 L1711.3,349.4 L1713.3,350.1 L1715.3,350.8 L1717.3,351.5 L1719.3,352.2 L1721.3,352.9 L1723.3,353.6 L1725.3,354.3 L1727.3,355.0 L1729.4,355.7 L1731.4,356.4 L1733.4,357.1 L1735.4,357.9 L1737.4,358.6 L1739.4,359.3 L1741.4,360.0 L1743.4,360.7 L1745.4,361.4 L1747.4,362.1 L1749.4,362.9" fill="none" stroke="#ff0000" stroke-width="2.7" stroke-linejoin="round"/>
<path d="M977.5,15.7 L979.5,15.8 L981.5,16.0 L983.5,16.1 L985.5,16.2 L987.5,16.3 L989.5,16.5 L991.5,16.6 L993.5,16.7 L995.5,16.9 L997.5,17.0 L999.6,17.1 L1001.6,17.3 L1003.6,17.4 L1005.6,17.6 L1007.6,17.7 L1009.6,17.9 L1011.6,18.0 L1013.6,18.2 L1015.6,18.3 L1017.6,18.5 L1019.6,18.6 L1021.6,18.8 L1023.6,19.0 L1025.6,19.1 L1027.6,19.3 L1029.6,19.5 L1031.6,19.6 L1033.6,19.8 L1035.6,20.0 L1037.6,20.2 L1039.7,20.3 L1041.7,20.5 L1043.7,20.7 L1045.7,20.9 L1047.7,21.1 L1049.7,21.2 L1051.7,21.4 L1053.7,21.6 L1055.7,21.8 L1057.7,22.0 L1059.7,22.2 L1061.7,22.4 L1063.7,22.5 L1065.7,22.7 L1067.7,22.9 L1069.7,23.1 L1071.7,23.3 L1073.7,23.5 L1075.7,23.7 L1077.7,23.9 L1079.8,24.1 L1081.8,24.3 L1083.8,24.5 L1085.8,24.7 L1087.8,24.9 L1089.8,25.1 L1091.8,25.3 L1093.8,25.4 L1095.8,25.6 L1097.8,25.8 L1099.8,26.0 L1101.8,26.2 L1103.8,26.4 L1105.8,26.6 L1107.8,26.8 L1109.8,27.0 L1111.8,27.2 L1113.8,27.4 L1115.8,27.6 L1117.8,27.8 L1119.9,28.0 L1121.9,28.2 L1123.9,28.5 L1125.9,28.7 L1127.9,28.9 L1129.9,29.1 L1131.9,29.3 L1133.9,29.5 L1135.9,29.8 L1137.9,30.0 L1139.9,30.2 L1141.9,30.5 L1143.9,30.7 L1145.9,30.9 L1147.9,31.2 L1149.9,31.4 L1151.9,31.7 L1153.9,31.9 L1155.9,32.2 L1157.9,32.5 L1159.9,32.8 L1162.0,33.0 L1164.0,33.3 L1166.0,33.6 L1168.0,33.9 L1170.0,34.2 L1172.0,34.5 L1174.0,34.8 L1176.0,35.2 L1178.0,35.5 L1180.0,35.8 L1182.0,36.2 L1184.0,36.5 L1186.0,36.9 L1188.0,37.2 L1190.0,37.6 L1192.0,38.0 L1194.0,38.4 L1196.0,38.8 L1198.0,39.2 L1200.0,39.6 L1202.1,40.0 L1204.1,40.5 L1206.1,40.9 L1208.1,41.4 L1210.1,41.8 L1212.1,42.3 L1214.1,42.8 L1216.1,43.3 L1218.1,43.8 L1220.1,44.3 L1222.1,44.8 L1224.1,45.4 L1226.1,45.9 L1228.1,46.5 L1230.1,47.1 L1232.1,47.7 L1234.1,48.3 L1236.1,48.9 L1238.1,49.5 L1240.1,50.2 L1242.2,50.9 L1244.2,51.6 L1246.2,52.3 L1248.2,53.0 L1250.2,53.8 L1252.2,54.6 L1254.2,55.4 L1256.2,56.2 L1258.2,57.0 L1260.2,57.9 L1262.2,58.8 L1264.2,59.7 L1266.2,60.6 L1268.2,61.6 L1270.2,62.5 L1272.2,63.6 L1274.2,64.6 L1276.2,65.6 L1278.2,66.7 L1280.2,67.9 L1282.3,69.0 L1284.3,70.2 L1286.3,71.4 L1288.3,72.6 L1290.3,73.8 L1292.3,75.1 L1294.3,76.4 L1296.3,77.7 L1298.3,79.1 L1300.3,80.4 L1302.3,81.8 L1304.3,83.2 L1306.3,84.6 L1308.3,86.0 L1310.3,87.4 L1312.3,88.9 L1314.3,90.4 L1316.3,91.8 L1318.3,93.4 L1320.3,94.9 L1322.3,96.6 L1324.4,98.2 L1326.4,100.0 L1328.4,101.8 L1330.4,103.7 L1332.4,105.7 L1334.4,107.7 L1336.4,109.9 L1338.4,112.1 L1340.4,114.3 L1342.4,116.6 L1344.4,119.0 L1346.4,121.4 L1348.4,123.8 L1350.4,126.3 L1352.4,128.7 L1354.4,131.2 L1356.4,133.7 L1358.4,136.2 L1360.4,138.7 L1362.4,141.1 L1364.5,143.7 L1366.5,146.2 L1368.5,148.9 L1370.5,151.7 L1372.5,154.6 L1374.5,157.6 L1376.5,160.7 L1378.5,163.9 L1380.5,167.3 L1382.5,170.6 L1384.5,174.1 L1386.5,177.6 L1388.5,181.2 L1390.5,184.7 L1392.5,188.3 L1394.5,191.9 L1396.5,195.6 L1398.5,199.2 L1400.5,202.8 L1402.5,206.4 L1404.6,210.0 L1406.6,213.6 L1408.6,217.1 L1410.6,220.4 L1412.6,223.4 L1414.6,226.3 L1416.6,228.9 L1418.6,231.3 L1420.6,233.4 L1422.6,235.3 L1424.6,237.0 L1426.6,238.5 L1428.6,239.9 L1430.6,241.1 L1432.6,242.3 L1434.6,243.4 L1436.6,244.5 L1438.6,245.6 L1440.6,246.6 L1442.6,247.7 L1444.6,248.7 L1446.7,249.7 L1448.7,250.7 L1450.7,251.6 L1452.7,252.6 L1454.7,253.5 L1456.7,254.5 L1458.7,255.4 L1460.7,256.3 L1462.7,257.2 L1464.7,258.2 L1466.7,259.1 L1468.7,260.0 L1470.7,260.9 L1472.7,261.8 L1474.7,262.7 L1476.7,263.6 L1478.7,264.4 L1480.7,265.3 L1482.7,266.2 L1484.7,267.1 L1486.8,267.9 L1488.8,268.8 L1490.8,269.7 L1492.8,270.5 L1494.8,271.4 L1496.8,272.2 L1498.8,273.1 L1500.8,273.9 L1502.8,274.8 L1504.8,275.6 L1506.8,276.4 L1508.8,277.3 L1510.8,278.1 L1512.8,278.9 L1514.8,279.7 L1516.8,280.5 L1518.8,281.3 L1520.8,282.1 L1522.8,283.0 L1524.8,283.8 L1526.9,284.6 L1528.9,285.3 L1530.9,286.1 L1532.9,286.9 L1534.9,287.7 L1536.9,288.5 L1538.9,289.3 L1540.9,290.1 L1542.9,290.8 L1544.9,291.6 L1546.9,292.4 L1548.9,293.1 L1550.9,293.9 L1552.9,294.7 L1554.9,295.4 L1556.9,296.2 L1558.9,296.9 L1560.9,297.7 L1562.9,298.4 L1564.9,299.2 L1567.0,299.9 L1569.0,300.7 L1571.0,301.4 L1573.0,302.1 L1575.0,302.9 L1577.0,303.6 L1579.0,304.4 L1581.0,305.1 L1583.0,305.8 L1585.0,306.5 L1587.0,307.3 L1589.0,308.0 L1591.0,308.7 L1593.0,309.4 L1595.0,310.1 L1597.0,310.9 L1599.0,311.6 L1601.0,312.3 L1603.0,313.0 L1605.0,313.7 L1607.0,314.4 L1609.1,315.1 L1611.1,315.8 L1613.1,316.5 L1615.1,317.2 L1617.1,317.9 L1619.1,318.6 L1621.1,319.3 L1623.1,320.0 L1625.1,320.7 L1627.1,321.4 L1629.1,322.1 L1631.1,322.8 L1633.1,323.5 L1635.1,324.2 L1637.1,324.9 L1639.1,325.6 L1641.1,326.3 L1643.1,327.0 L1645.1,327.7 L1647.1,328.4 L1649.2,329.1 L1651.2,329.8 L1653.2,330.4 L1655.2,331.1 L1657.2,331.8 L1659.2,332.5 L1661.2,333.2 L1663.2,333.9 L1665.2,334.6 L1667.2,335.3 L1669.2,336.0 L1671.2,336.6 L1673.2,337.3 L1675.2,338.0 L1677.2,338.7 L1679.2,339.4 L1681.2,340.1 L1683.2,340.8 L1685.2,341.5 L1687.2,342.2 L1689.3,342.8 L1691.3,343.5 L1693.3,344.2 L1695.3,344.9 L1697.3,345.6 L1699.3,346.3 L1701.3,347.0 L1703.3,347.7 L1705.3,348.4 L1707.3,349.1 L1709.3,349.8 L1711.3,350.5 L1713.3,351.2 L1715.3,351.9 L1717.3,352.6 L1719.3,353.3 L1721.3,354.0 L1723.3,354.7 L1725.3,355.4 L1727.3,356.1 L1729.4,356.8 L1731.4,357.5 L1733.4,358.2 L1735.4,359.0 L1737.4,359.7 L1739.4,360.4 L1741.4,361.1 L1743.4,361.8 L1745.4,362.5 L1747.4,363.3 L1749.4,364.0" fill="none" stroke="#ff00ff" stroke-width="2.7" stroke-linejoin="round"/>
<path d="M977.5,15.7 L979.5,15.8 L981.5,16.0 L983.5,16.1 L985.5,16.2 L987.5,16.3 L989.5,16.4 L991.5,16.5 L993.5,16.7 L995.5,16.8 L997.5,16.9 L999.6,17.1 L1001.6,17.2 L1003.6,17.3 L1005.6,17.5 L1007.6,17.6 L1009.6,17.8 L1011.6,17.9 L1013.6,18.1 L1015.6,18.3 L1017.6,18.4 L1019.6,18.6 L1021.6,18.7 L1023.6,18.9 L1025.6,19.1 L1027.6,19.3 L1029.6,19.4 L1031.6,19.6 L1033.6,19.8 L1035.6,20.0 L1037.6,20.1 L1039.7,20.3 L1041.7,20.5 L1043.7,20.7 L1045.7,20.9 L1047.7,21.1 L1049.7,21.3 L1051.7,21.4 L1053.7,21.6 L1055.7,21.8 L1057.7,22.0 L1059.7,22.2 L1061.7,22.4 L1063.7,22.6 L1065.7,22.8 L1067.7,23.0 L1069.7,23.2 L1071.7,23.4 L1073.7,23.6 L1075.7,23.8 L1077.7,24.0 L1079.8,24.2 L1081.8,24.4 L1083.8,24.6 L1085.8,24.8 L1087.8,25.0 L1089.8,25.2 L1091.8,25.4 L1093.8,25.6 L1095.8,25.8 L1097.8,25.9 L1099.8,26.1 L1101.8,26.3 L1103.8,26.5 L1105.8,26.7 L1107.8,26.9 L1109.8,27.1 L1111.8,27.3 L1113.8,27.5 L1115.8,27.7 L1117.8,27.9 L1119.9,28.1 L1121.9,28.3 L1123.9,28.5 L1125.9,28.7 L1127.9,28.9 L1129.9,29.1 L1131.9,29.3 L1133.9,29.5 L1135.9,29.7 L1137.9,29.9 L1139.9,30.1 L1141.9,30.4 L1143.9,30.6 L1145.9,30.8 L1147.9,31.1 L1149.9,31.3 L1151.9,31.5 L1153.9,31.8 L1155.9,32.0 L1157.9,32.3 L1159.9,32.6 L1162.0,32.9 L1164.0,33.1 L1166.0,33.4 L1168.0,33.7 L1170.0,34.0 L1172.0,34.3 L1174.0,34.6 L1176.0,35.0 L1178.0,35.3 L1180.0,35.6 L1182.0,36.0 L1184.0,36.3 L1186.0,36.7 L1188.0,37.1 L1190.0,37.5 L1192.0,37.9 L1194.0,38.3 L1196.0,38.7 L1198.0,39.1 L1200.0,39.6 L1202.1,40.0 L1204.1,40.5 L1206.1,40.9 L1208.1,41.4 L1210.1,41.9 L1212.1,42.4 L1214.1,42.9 L1216.1,43.4 L1218.1,44.0 L1220.1,44.5 L1222.1,45.1 L1224.1,45.6 L1226.1,46.2 L1228.1,46.8 L1230.1,47.4 L1232.1,48.0 L1234.1,48.6 L1236.1,49.2 L1238.1,49.8 L1240.1,50.4 L1242.2,51.0 L1244.2,51.6 L1246.2,52.2 L1248.2,52.8 L1250.2,53.4 L1252.2,54.0 L1254.2,54.6 L1256.2,55.3 L1258.2,55.9 L1260.2,56.6 L1262.2,57.3 L1264.2,58.0 L1266.2,58.8 L1268.2,59.5 L1270.2,60.3 L1272.2,61.1 L1274.2,62.0 L1276.2,62.8 L1278.2,63.7 L1280.2,64.6 L1282.3,65.5 L1284.3,66.5 L1286.3,67.4 L1288.3,68.4 L1290.3,69.4 L1292.3,70.5 L1294.3,71.5 L1296.3,72.6 L1298.3,73.7 L1300.3,74.8 L1302.3,75.9 L1304.3,77.1 L1306.3,78.3 L1308.3,79.5 L1310.3,80.7 L1312.3,82.0 L1314.3,83.2 L1316.3,84.5 L1318.3,85.8 L1320.3,87.2 L1322.3,88.5 L1324.4,89.9 L1326.4,91.4 L1328.4,92.8 L1330.4,94.3 L1332.4,95.7 L1334.4,97.3 L1336.4,98.8 L1338.4,100.4 L1340.4,102.0 L1342.4,103.6 L1344.4,105.2 L1346.4,106.9 L1348.4,108.6 L1350.4,110.3 L1352.4,112.1 L1354.4,113.8 L1356.4,115.7 L1358.4,117.5 L1360.4,119.4 L1362.4,121.3 L1364.5,123.2 L1366.5,125.1 L1368.5,127.1 L1370.5,129.1 L1372.5,131.2 L1374.5,133.2 L1376.5,135.3 L1378.5,137.5 L1380.5,139.6 L1382.5,141.8 L1384.5,144.0 L1386.5,146.3 L1388.5,148.6 L1390.5,150.9 L1392.5,153.2 L1394.5,155.6 L1396.5,158.0 L1398.5,160.5 L1400.5,162.9 L1402.5,165.4 L1404.6,168.0 L1406.6,170.5 L1408.6,173.1 L1410.6,175.7 L1412.6,178.4 L1414.6,181.1 L1416.6,183.8 L1418.6,186.6 L1420.6,189.4 L1422.6,192.2 L1424.6,195.0 L1426.6,197.9 L1428.6,200.8 L1430.6,203.8 L1432.6,206.8 L1434.6,209.8 L1436.6,212.8 L1438.6,215.9 L1440.6,218.9 L1442.6,222.0 L1444.6,225.1 L1446.7,228.2 L1448.7,231.3 L1450.7,234.4 L1452.7,237.5 L1454.7,240.6 L1456.7,243.7 L1458.7,246.7 L1460.7,249.8 L1462.7,252.8 L1464.7,255.8 L1466.7,258.7 L1468.7,261.5 L1470.7,264.3 L1472.7,267.0 L1474.7,269.6 L1476.7,272.1 L1478.7,274.5 L1480.7,276.8 L1482.7,279.0 L1484.7,281.1 L1486.8,283.1 L1488.8,285.0 L1490.8,286.8 L1492.8,288.6 L1494.8,290.4 L1496.8,292.1 L1498.8,293.9 L1500.8,295.5 L1502.8,297.2 L1504.8,298.8 L1506.8,300.3 L1508.8,301.8 L1510.8,303.2 L1512.8,304.6 L1514.8,305.9 L1516.8,307.2 L1518.8,308.4 L1520.8,309.6 L1522.8,310.8 L1524.8,312.0 L1526.9,313.1 L1528.9,314.3 L1530.9,315.5 L1532.9,316.6 L1534.9,317.8 L1536.9,318.9 L1538.9,320.1 L1540.9,321.3 L1542.9,322.4 L1544.9,323.6 L1546.9,324.7 L1548.9,325.9 L1550.9,327.1 L1552.9,328.3 L1554.9,329.5 L1556.9,330.7 L1558.9,331.9 L1560.9,333.1 L1562.9,334.3 L1564.9,335.5 L1567.0,336.8 L1569.0,338.0 L1571.0,339.3 L1573.0,340.6 L1575.0,341.9 L1577.0,343.2 L1579.0,344.5 L1581.0,345.8 L1583.0,347.1 L1585.0,348.5 L1587.0,349.8 L1589.0,351.2 L1591.0,352.6 L1593.0,354.0 L1595.0,355.4 L1597.0,356.7 L1599.0,358.1 L1601.0,359.4 L1603.0,360.7 L1605.0,362.0 L1607.0,363.3 L1609.1,364.5 L1611.1,365.8 L1613.1,367.0 L1615.1,368.3 L1617.1,369.5 L1619.1,370.8 L1621.1,372.1 L1623.1,373.4 L1625.1,374.8 L1627.1,376.2 L1629.1,377.5 L1631.1,378.9 L1633.1,380.2 L1635.1,381.5 L1637.1,382.8 L1639.1,384.1 L1641.1,385.3 L1643.1,386.6 L1645.1,387.8 L1647.1,389.1 L1649.2,390.4 L1651.2,391.7 L1653.2,393.1 L1655.2,394.5 L1657.2,395.9 L1659.2,397.5 L1661.2,399.0 L1663.2,400.6 L1665.2,402.1 L1667.2,403.7 L1669.2,405.4 L1671.2,407.0 L1673.2,408.6 L1675.2,410.2 L1677.2,411.7 L1679.2,413.3 L1681.2,414.9 L1683.2,416.4 L1685.2,417.9 L1687.2,419.5 L1689.3,421.0 L1691.3,422.5 L1693.3,423.9 L1695.3,425.4 L1697.3,426.8 L1699.3,428.3 L1701.3,429.7 L1703.3,431.1 L1705.3,432.5 L1707.3,433.9 L1709.3,435.2 L1711.3,436.6 L1713.3,437.9 L1715.3,439.2 L1717.3,440.5 L1719.3,441.8 L1721.3,443.1 L1723.3,444.4 L1725.3,445.7 L1727.3,447.0 L1729.4,448.3 L1731.4,449.5 L1733.4,450.8 L1735.4,452.1 L1737.4,453.4 L1739.4,454.6 L1741.4,455.9 L1743.4,457.2 L1745.4,458.4 L1747.4,459.7 L1749.4,461.0" fill="none" stroke="#ff0000" stroke-width="2.7" stroke-linejoin="round" stroke-dasharray="23.4 14.1"/>
<path d="M977.5,19.8 L979.5,19.9 L981.5,20.0 L983.5,20.1 L985.5,20.2 L987.5,20.2 L989.5,20.3 L991.5,20.4 L993.5,20.5 L995.5,20.6 L997.5,20.7 L999.6,20.8 L1001.6,20.9 L1003.6,21.0 L1005.6,21.2 L1007.6,21.3 L1009.6,21.4 L1011.6,21.5 L1013.6,21.6 L1015.6,21.8 L1017.6,21.9 L1019.6,22.0 L1021.6,22.1 L1023.6,22.3 L1025.6,22.4 L1027.6,22.6 L1029.6,22.7 L1031.6,22.8 L1033.6,23.0 L1035.6,23.1 L1037.6,23.3 L1039.7,23.4 L1041.7,23.6 L1043.7,23.7 L1045.7,23.9 L1047.7,24.0 L1049.7,24.2 L1051.7,24.3 L1053.7,24.5 L1055.7,24.7 L1057.7,24.8 L1059.7,25.0 L1061.7,25.1 L1063.7,25.3 L1065.7,25.5 L1067.7,25.6 L1069.7,25.8 L1071.7,26.0 L1073.7,26.1 L1075.7,26.3 L1077.7,26.5 L1079.8,26.6 L1081.8,26.8 L1083.8,27.0 L1085.8,27.1 L1087.8,27.3 L1089.8,27.5 L1091.8,27.6 L1093.8,27.8 L1095.8,28.0 L1097.8,28.1 L1099.8,28.3 L1101.8,28.4 L1103.8,28.6 L1105.8,28.8 L1107.8,28.9 L1109.8,29.1 L1111.8,29.3 L1113.8,29.4 L1115.8,29.6 L1117.8,29.8 L1119.9,29.9 L1121.9,30.1 L1123.9,30.3 L1125.9,30.5 L1127.9,30.6 L1129.9,30.8 L1131.9,31.0 L1133.9,31.2 L1135.9,31.4 L1137.9,31.6 L1139.9,31.8 L1141.9,32.0 L1143.9,32.2 L1145.9,32.4 L1147.9,32.6 L1149.9,32.8 L1151.9,33.1 L1153.9,33.3 L1155.9,33.5 L1157.9,33.8 L1159.9,34.0 L1162.0,34.3 L1164.0,34.5 L1166.0,34.8 L1168.0,35.1 L1170.0,35.4 L1172.0,35.7 L1174.0,36.0 L1176.0,36.3 L1178.0,36.6 L1180.0,36.9 L1182.0,37.3 L1184.0,37.6 L1186.0,38.0 L1188.0,38.3 L1190.0,38.7 L1192.0,39.1 L1194.0,39.5 L1196.0,39.9 L1198.0,40.3 L1200.0,40.7 L1202.1,41.1 L1204.1,41.6 L1206.1,42.0 L1208.1,42.5 L1210.1,43.0 L1212.1,43.5 L1214.1,44.0 L1216.1,44.5 L1218.1,45.1 L1220.1,45.6 L1222.1,46.1 L1224.1,46.7 L1226.1,47.3 L1228.1,47.8 L1230.1,48.4 L1232.1,49.0 L1234.1,49.6 L1236.1,50.2 L1238.1,50.8 L1240.1,51.4 L1242.2,52.0 L1244.2,52.5 L1246.2,53.1 L1248.2,53.7 L1250.2,54.3 L1252.2,54.9 L1254.2,55.6 L1256.2,56.2 L1258.2,56.8 L1260.2,57.5 L1262.2,58.2 L1264.2,58.9 L1266.2,59.7 L1268.2,60.4 L1270.2,61.2 L1272.2,62.0 L1274.2,62.8 L1276.2,63.7 L1278.2,64.6 L1280.2,65.4 L1282.3,66.4 L1284.3,67.3 L1286.3,68.3 L1288.3,69.2 L1290.3,70.2 L1292.3,71.3 L1294.3,72.3 L1296.3,73.4 L1298.3,74.5 L1300.3,75.6 L1302.3,76.7 L1304.3,77.9 L1306.3,79.0 L1308.3,80.2 L1310.3,81.5 L1312.3,82.7 L1314.3,84.0 L1316.3,85.3 L1318.3,86.6 L1320.3,87.9 L1322.3,89.3 L1324.4,90.7 L1326.4,92.1 L1328.4,93.5 L1330.4,95.0 L1332.4,96.5 L1334.4,98.0 L1336.4,99.5 L1338.4,101.1 L1340.4,102.7 L1342.4,104.3 L1344.4,106.0 L1346.4,107.6 L1348.4,109.3 L1350.4,111.0 L1352.4,112.8 L1354.4,114.6 L1356.4,116.4 L1358.4,118.2 L1360.4,120.1 L1362.4,122.0 L1364.5,123.9 L1366.5,125.8 L1368.5,127.8 L1370.5,129.8 L1372.5,131.8 L1374.5,133.9 L1376.5,136.0 L1378.5,138.1 L1380.5,140.3 L1382.5,142.4 L1384.5,144.6 L1386.5,146.9 L1388.5,149.2 L1390.5,151.5 L1392.5,153.8 L1394.5,156.2 L1396.5,158.6 L1398.5,161.0 L1400.5,163.5 L1402.5,166.0 L1404.6,168.5 L1406.6,171.1 L1408.6,173.7 L1410.6,176.3 L1412.6,178.9 L1414.6,181.6 L1416.6,184.4 L1418.6,187.1 L1420.6,189.9 L1422.6,192.8 L1424.6,195.6 L1426.6,198.5 L1428.6,201.5 L1430.6,204.5 L1432.6,207.5 L1434.6,210.5 L1436.6,213.6 L1438.6,216.7 L1440.6,219.9 L1442.6,223.1 L1444.6,226.3 L1446.7,229.5 L1448.7,232.8 L1450.7,236.2 L1452.7,239.5 L1454.7,242.8 L1456.7,246.0 L1458.7,249.2 L1460.7,252.2 L1462.7,255.2 L1464.7,258.1 L1466.7,260.9 L1468.7,263.6 L1470.7,266.2 L1472.7,268.8 L1474.7,271.3 L1476.7,273.7 L1478.7,276.0 L1480.7,278.2 L1482.7,280.4 L1484.7,282.5 L1486.8,284.6 L1488.8,286.5 L1490.8,288.4 L1492.8,290.3 L1494.8,292.1 L1496.8,293.8 L1498.8,295.5 L1500.8,297.1 L1502.8,298.7 L1504.8,300.2 L1506.8,301.7 L1508.8,303.1 L1510.8,304.5 L1512.8,305.9 L1514.8,307.2 L1516.8,308.5 L1518.8,309.7 L1520.8,311.0 L1522.8,312.2 L1524.8,313.3 L1526.9,314.5 L1528.9,315.6 L1530.9,316.7 L1532.9,317.8 L1534.9,318.9 L1536.9,320.0 L1538.9,321.1 L1540.9,322.2 L1542.9,323.3 L1544.9,324.5 L1546.9,325.6 L1548.9,326.8 L1550.9,328.0 L1552.9,329.2 L1554.9,330.4 L1556.9,331.7 L1558.9,333.0 L1560.9,334.4 L1562.9,335.7 L1564.9,337.1 L1567.0,338.5 L1569.0,339.8 L1571.0,341.0 L1573.0,342.2 L1575.0,343.4 L1577.0,344.6 L1579.0,345.8 L1581.0,346.9 L1583.0,348.2 L1585.0,349.4 L1587.0,350.7 L1589.0,352.1 L1591.0,353.6 L1593.0,355.1 L1595.0,356.7 L1597.0,358.2 L1599.0,359.7 L1601.0,361.1 L1603.0,362.4 L1605.0,363.6 L1607.0,364.8 L1609.1,366.0 L1611.1,367.1 L1613.1,368.2 L1615.1,369.4 L1617.1,370.5 L1619.1,371.8 L1621.1,373.1 L1623.1,374.5 L1625.1,376.0 L1627.1,377.5 L1629.1,379.0 L1631.1,380.5 L1633.1,381.9 L1635.1,383.2 L1637.1,384.5 L1639.1,385.7 L1641.1,386.9 L1643.1,388.1 L1645.1,389.3 L1647.1,390.4 L1649.2,391.7 L1651.2,392.9 L1653.2,394.3 L1655.2,395.7 L1657.2,397.2 L1659.2,398.7 L1661.2,400.3 L1663.2,401.9 L1665.2,403.5 L1667.2,405.1 L1669.2,406.8 L1671.2,408.4 L1673.2,410.1 L1675.2,411.7 L1677.2,413.3 L1679.2,414.9 L1681.2,416.4 L1683.2,417.9 L1685.2,419.5 L1687.2,421.0 L1689.3,422.4 L1691.3,423.9 L1693.3,425.4 L1695.3,426.8 L1697.3,428.2 L1699.3,429.6 L1701.3,431.0 L1703.3,432.4 L1705.3,433.8 L1707.3,435.2 L1709.3,436.5 L1711.3,437.8 L1713.3,439.2 L1715.3,440.5 L1717.3,441.8 L1719.3,443.1 L1721.3,444.4 L1723.3,445.7 L1725.3,447.0 L1727.3,448.3 L1729.4,449.6 L1731.4,450.9 L1733.4,452.1 L1735.4,453.4 L1737.4,454.7 L1739.4,455.9 L1741.4,457.2 L1743.4,458.5 L1745.4,459.8 L1747.4,461.0 L1749.4,462.3" fill="none" stroke="#ff00ff" stroke-width="2.7" stroke-linejoin="round" stroke-dasharray="23.4 14.1" stroke-dashoffset="-0.35"/>
<path d="M977.5,19.8 L979.5,19.9 L981.5,20.0 L983.5,20.1 L985.5,20.2 L987.5,20.3 L989.5,20.4 L991.5,20.5 L993.5,20.6 L995.5,20.7 L997.5,20.8 L999.6,20.9 L1001.6,21.0 L1003.6,21.1 L1005.6,21.2 L1007.6,21.3 L1009.6,21.5 L1011.6,21.6 L1013.6,21.7 L1015.6,21.8 L1017.6,21.9 L1019.6,22.1 L1021.6,22.2 L1023.6,22.3 L1025.6,22.5 L1027.6,22.6 L1029.6,22.7 L1031.6,22.9 L1033.6,23.0 L1035.6,23.2 L1037.6,23.3 L1039.7,23.4 L1041.7,23.6 L1043.7,23.7 L1045.7,23.9 L1047.7,24.0 L1049.7,24.2 L1051.7,24.3 L1053.7,24.5 L1055.7,24.6 L1057.7,24.8 L1059.7,24.9 L1061.7,25.1 L1063.7,25.2 L1065.7,25.4 L1067.7,25.6 L1069.7,25.7 L1071.7,25.9 L1073.7,26.0 L1075.7,26.2 L1077.7,26.4 L1079.8,26.5 L1081.8,26.7 L1083.8,26.9 L1085.8,27.0 L1087.8,27.2 L1089.8,27.4 L1091.8,27.5 L1093.8,27.7 L1095.8,27.9 L1097.8,28.0 L1099.8,28.2 L1101.8,28.4 L1103.8,28.5 L1105.8,28.7 L1107.8,28.9 L1109.8,29.0 L1111.8,29.2 L1113.8,29.4 L1115.8,29.6 L1117.8,29.7 L1119.9,29.9 L1121.9,30.1 L1123.9,30.3 L1125.9,30.5 L1127.9,30.7 L1129.9,30.8 L1131.9,31.0 L1133.9,31.2 L1135.9,31.4 L1137.9,31.6 L1139.9,31.9 L1141.9,32.1 L1143.9,32.3 L1145.9,32.5 L1147.9,32.7 L1149.9,33.0 L1151.9,33.2 L1153.9,33.4 L1155.9,33.7 L1157.9,33.9 L1159.9,34.2 L1162.0,34.4 L1164.0,34.7 L1166.0,35.0 L1168.0,35.3 L1170.0,35.6 L1172.0,35.8 L1174.0,36.1 L1176.0,36.5 L1178.0,36.8 L1180.0,37.1 L1182.0,37.4 L1184.0,37.8 L1186.0,38.1 L1188.0,38.5 L1190.0,38.8 L1192.0,39.2 L1194.0,39.6 L1196.0,39.9 L1198.0,40.3 L1200.0,40.7 L1202.1,41.2 L1204.1,41.6 L1206.1,42.0 L1208.1,42.5 L1210.1,42.9 L1212.1,43.4 L1214.1,43.9 L1216.1,44.3 L1218.1,44.8 L1220.1,45.3 L1222.1,45.9 L1224.1,46.4 L1226.1,47.0 L1228.1,47.5 L1230.1,48.1 L1232.1,48.7 L1234.1,49.3 L1236.1,49.9 L1238.1,50.6 L1240.1,51.2 L1242.2,51.9 L1244.2,52.6 L1246.2,53.3 L1248.2,54.0 L1250.2,54.8 L1252.2,55.5 L1254.2,56.3 L1256.2,57.1 L1258.2,58.0 L1260.2,58.8 L1262.2,59.7 L1264.2,60.6 L1266.2,61.5 L1268.2,62.5 L1270.2,63.5 L1272.2,64.4 L1274.2,65.5 L1276.2,66.5 L1278.2,67.6 L1280.2,68.7 L1282.3,69.8 L1284.3,71.0 L1286.3,72.2 L1288.3,73.4 L1290.3,74.6 L1292.3,75.9 L1294.3,77.1 L1296.3,78.4 L1298.3,79.8 L1300.3,81.1 L1302.3,82.5 L1304.3,83.9 L1306.3,85.3 L1308.3,86.8 L1310.3,88.2 L1312.3,89.7 L1314.3,91.2 L1316.3,92.7 L1318.3,94.3 L1320.3,95.9 L1322.3,97.5 L1324.4,99.2 L1326.4,100.9 L1328.4,102.6 L1330.4,104.4 L1332.4,106.2 L1334.4,108.1 L1336.4,110.1 L1338.4,112.1 L1340.4,114.1 L1342.4,116.2 L1344.4,118.3 L1346.4,120.5 L1348.4,122.7 L1350.4,125.0 L1352.4,127.4 L1354.4,129.8 L1356.4,132.3 L1358.4,134.8 L1360.4,137.4 L1362.4,140.0 L1364.5,142.7 L1366.5,145.5 L1368.5,148.3 L1370.5,151.1 L1372.5,154.1 L1374.5,157.1 L1376.5,160.1 L1378.5,163.3 L1380.5,166.5 L1382.5,169.7 L1384.5,173.0 L1386.5,176.4 L1388.5,179.9 L1390.5,183.4 L1392.5,187.0 L1394.5,190.6 L1396.5,194.3 L1398.5,197.9 L1400.5,201.6 L1402.5,205.3 L1404.6,209.0 L1406.6,212.6 L1408.6,216.1 L1410.6,219.4 L1412.6,222.6 L1414.6,225.5 L1416.6,228.2 L1418.6,230.6 L1420.6,232.8 L1422.6,234.7 L1424.6,236.4 L1426.6,237.9 L1428.6,239.3 L1430.6,240.5 L1432.6,241.7 L1434.6,242.8 L1436.6,243.8 L1438.6,244.9 L1440.6,245.9 L1442.6,246.9 L1444.6,247.9 L1446.7,248.9 L1448.7,249.9 L1450.7,250.8 L1452.7,251.8 L1454.7,252.7 L1456.7,253.6 L1458.7,254.6 L1460.7,255.5 L1462.7,256.4 L1464.7,257.3 L1466.7,258.2 L1468.7,259.1 L1470.7,260.0 L1472.7,260.9 L1474.7,261.8 L1476.7,262.7 L1478.7,263.6 L1480.7,264.5 L1482.7,265.3 L1484.7,266.2 L1486.8,267.1 L1488.8,267.9 L1490.8,268.8 L1492.8,269.7 L1494.8,270.5 L1496.8,271.4 L1498.8,272.2 L1500.8,273.0 L1502.8,273.9 L1504.8,274.7 L1506.8,275.5 L1508.8,276.4 L1510.8,277.2 L1512.8,278.0 L1514.8,278.8 L1516.8,279.6 L1518.8,280.4 L1520.8,281.2 L1522.8,282.0 L1524.8,282.8 L1526.9,283.6 L1528.9,284.4 L1530.9,285.2 L1532.9,286.0 L1534.9,286.8 L1536.9,287.6 L1538.9,288.4 L1540.9,289.1 L1542.9,289.9 L1544.9,290.7 L1546.9,291.4 L1548.9,292.2 L1550.9,293.0 L1552.9,293.7 L1554.9,294.5 L1556.9,295.2 L1558.9,296.0 L1560.9,296.7 L1562.9,297.5 L1564.9,298.2 L1567.0,299.0 L1569.0,299.7 L1571.0,300.5 L1573.0,301.2 L1575.0,301.9 L1577.0,302.7 L1579.0,303.4 L1581.0,304.1 L1583.0,304.9 L1585.0,305.6 L1587.0,306.3 L1589.0,307.1 L1591.0,307.8 L1593.0,308.5 L1595.0,309.2 L1597.0,309.9 L1599.0,310.6 L1601.0,311.4 L1603.0,312.1 L1605.0,312.8 L1607.0,313.5 L1609.1,314.2 L1611.1,314.9 L1613.1,315.6 L1615.1,316.3 L1617.1,317.0 L1619.1,317.7 L1621.1,318.4 L1623.1,319.1 L1625.1,319.8 L1627.1,320.5 L1629.1,321.2 L1631.1,321.9 L1633.1,322.6 L1635.1,323.3 L1637.1,324.0 L1639.1,324.7 L1641.1,325.4 L1643.1,326.1 L1645.1,326.8 L1647.1,327.5 L1649.2,328.2 L1651.2,328.9 L1653.2,329.6 L1655.2,330.3 L1657.2,331.0 L1659.2,331.7 L1661.2,332.3 L1663.2,333.0 L1665.2,333.7 L1667.2,334.4 L1669.2,335.1 L1671.2,335.8 L1673.2,336.5 L1675.2,337.2 L1677.2,337.9 L1679.2,338.5 L1681.2,339.2 L1683.2,339.9 L1685.2,340.6 L1687.2,341.3 L1689.3,342.0 L1691.3,342.7 L1693.3,343.4 L1695.3,344.1 L1697.3,344.8 L1699.3,345.5 L1701.3,346.2 L1703.3,346.8 L1705.3,347.5 L1707.3,348.2 L1709.3,348.9 L1711.3,349.6 L1713.3,350.3 L1715.3,351.0 L1717.3,351.7 L1719.3,352.4 L1721.3,353.1 L1723.3,353.8 L1725.3,354.5 L1727.3,355.2 L1729.4,355.9 L1731.4,356.6 L1733.4,357.3 L1735.4,358.1 L1737.4,358.8 L1739.4,359.5 L1741.4,360.2 L1743.4,360.9 L1745.4,361.6 L1747.4,362.3 L1749.4,363.1" fill="none" stroke="#0000ff" stroke-width="2.7" stroke-linejoin="round"/>
<path d="M977.5,19.8 L979.5,19.9 L981.5,20.0 L983.5,20.1 L985.5,20.2 L987.5,20.2 L989.5,20.3 L991.5,20.4 L993.5,20.5 L995.5,20.6 L997.5,20.7 L999.6,20.8 L1001.6,20.9 L1003.6,21.0 L1005.6,21.2 L1007.6,21.3 L1009.6,21.4 L1011.6,21.5 L1013.6,21.6 L1015.6,21.8 L1017.6,21.9 L1019.6,22.0 L1021.6,22.1 L1023.6,22.3 L1025.6,22.4 L1027.6,22.6 L1029.6,22.7 L1031.6,22.8 L1033.6,23.0 L1035.6,23.1 L1037.6,23.3 L1039.7,23.4 L1041.7,23.6 L1043.7,23.7 L1045.7,23.9 L1047.7,24.0 L1049.7,24.2 L1051.7,24.3 L1053.7,24.5 L1055.7,24.7 L1057.7,24.8 L1059.7,25.0 L1061.7,25.1 L1063.7,25.3 L1065.7,25.5 L1067.7,25.6 L1069.7,25.8 L1071.7,26.0 L1073.7,26.1 L1075.7,26.3 L1077.7,26.5 L1079.8,26.6 L1081.8,26.8 L1083.8,27.0 L1085.8,27.1 L1087.8,27.3 L1089.8,27.5 L1091.8,27.6 L1093.8,27.8 L1095.8,28.0 L1097.8,28.1 L1099.8,28.3 L1101.8,28.4 L1103.8,28.6 L1105.8,28.8 L1107.8,28.9 L1109.8,29.1 L1111.8,29.3 L1113.8,29.4 L1115.8,29.6 L1117.8,29.8 L1119.9,29.9 L1121.9,30.1 L1123.9,30.3 L1125.9,30.5 L1127.9,30.6 L1129.9,30.8 L1131.9,31.0 L1133.9,31.2 L1135.9,31.4 L1137.9,31.6 L1139.9,31.8 L1141.9,32.0 L1143.9,32.2 L1145.9,32.4 L1147.9,32.6 L1149.9,32.8 L1151.9,33.1 L1153.9,33.3 L1155.9,33.5 L1157.9,33.8 L1159.9,34.0 L1162.0,34.3 L1164.0,34.5 L1166.0,34.8 L1168.0,35.1 L1170.0,35.4 L1172.0,35.7 L1174.0,36.0 L1176.0,36.3 L1178.0,36.6 L1180.0,36.9 L1182.0,37.3 L1184.0,37.6 L1186.0,38.0 L1188.0,38.3 L1190.0,38.7 L1192.0,39.1 L1194.0,39.5 L1196.0,39.9 L1198.0,40.3 L1200.0,40.7 L1202.1,41.1 L1204.1,41.6 L1206.1,42.1 L1208.1,42.5 L1210.1,43.0 L1212.1,43.5 L1214.1,44.0 L1216.1,44.5 L1218.1,45.1 L1220.1,45.6 L1222.1,46.1 L1224.1,46.7 L1226.1,47.3 L1228.1,47.8 L1230.1,48.4 L1232.1,49.0 L1234.1,49.6 L1236.1,50.2 L1238.1,50.8 L1240.1,51.4 L1242.2,52.0 L1244.2,52.5 L1246.2,53.1 L1248.2,53.7 L1250.2,54.3 L1252.2,54.9 L1254.2,55.5 L1256.2,56.2 L1258.2,56.8 L1260.2,57.5 L1262.2,58.2 L1264.2,58.9 L1266.2,59.6 L1268.2,60.4 L1270.2,61.2 L1272.2,62.0 L1274.2,62.8 L1276.2,63.7 L1278.2,64.6 L1280.2,65.5 L1282.3,66.4 L1284.3,67.3 L1286.3,68.3 L1288.3,69.3 L1290.3,70.3 L1292.3,71.3 L1294.3,72.4 L1296.3,73.4 L1298.3,74.5 L1300.3,75.6 L1302.3,76.8 L1304.3,77.9 L1306.3,79.1 L1308.3,80.3 L1310.3,81.5 L1312.3,82.7 L1314.3,84.0 L1316.3,85.3 L1318.3,86.6 L1320.3,87.9 L1322.3,89.3 L1324.4,90.7 L1326.4,92.1 L1328.4,93.5 L1330.4,95.0 L1332.4,96.5 L1334.4,98.0 L1336.4,99.5 L1338.4,101.1 L1340.4,102.6 L1342.4,104.3 L1344.4,105.9 L1346.4,107.6 L1348.4,109.3 L1350.4,111.0 L1352.4,112.7 L1354.4,114.5 L1356.4,116.3 L1358.4,118.1 L1360.4,120.0 L1362.4,121.9 L1364.5,123.8 L1366.5,125.8 L1368.5,127.8 L1370.5,129.8 L1372.5,131.8 L1374.5,133.9 L1376.5,136.0 L1378.5,138.1 L1380.5,140.3 L1382.5,142.5 L1384.5,144.7 L1386.5,147.0 L1388.5,149.2 L1390.5,151.6 L1392.5,153.9 L1394.5,156.3 L1396.5,158.7 L1398.5,161.1 L1400.5,163.6 L1402.5,166.1 L1404.6,168.6 L1406.6,171.2 L1408.6,173.8 L1410.6,176.4 L1412.6,179.0 L1414.6,181.7 L1416.6,184.4 L1418.6,187.2 L1420.6,189.9 L1422.6,192.7 L1424.6,195.6 L1426.6,198.4 L1428.6,201.3 L1430.6,204.2 L1432.6,207.2 L1434.6,210.2 L1436.6,213.2 L1438.6,216.2 L1440.6,219.2 L1442.6,222.3 L1444.6,225.3 L1446.7,228.4 L1448.7,231.5 L1450.7,234.5 L1452.7,237.6 L1454.7,240.7 L1456.7,243.7 L1458.7,246.8 L1460.7,249.8 L1462.7,252.8 L1464.7,255.7 L1466.7,258.6 L1468.7,261.5 L1470.7,264.3 L1472.7,267.0 L1474.7,269.6 L1476.7,272.1 L1478.7,274.5 L1480.7,276.8 L1482.7,279.0 L1484.7,281.1 L1486.8,283.1 L1488.8,285.0 L1490.8,286.9 L1492.8,288.7 L1494.8,290.5 L1496.8,292.2 L1498.8,293.9 L1500.8,295.6 L1502.8,297.2 L1504.8,298.8 L1506.8,300.3 L1508.8,301.8 L1510.8,303.2 L1512.8,304.5 L1514.8,305.8 L1516.8,307.1 L1518.8,308.4 L1520.8,309.6 L1522.8,310.8 L1524.8,312.0 L1526.9,313.2 L1528.9,314.3 L1530.9,315.5 L1532.9,316.6 L1534.9,317.8 L1536.9,319.0 L1538.9,320.1 L1540.9,321.3 L1542.9,322.4 L1544.9,323.6 L1546.9,324.7 L1548.9,325.9 L1550.9,327.1 L1552.9,328.3 L1554.9,329.4 L1556.9,330.6 L1558.9,331.8 L1560.9,333.1 L1562.9,334.3 L1564.9,335.5 L1567.0,336.8 L1569.0,338.0 L1571.0,339.3 L1573.0,340.6 L1575.0,341.9 L1577.0,343.2 L1579.0,344.5 L1581.0,345.8 L1583.0,347.1 L1585.0,348.5 L1587.0,349.8 L1589.0,351.2 L1591.0,352.6 L1593.0,354.0 L1595.0,355.3 L1597.0,356.7 L1599.0,358.1 L1601.0,359.4 L1603.0,360.7 L1605.0,362.0 L1607.0,363.3 L1609.1,364.5 L1611.1,365.8 L1613.1,367.1 L1615.1,368.3 L1617.1,369.6 L1619.1,370.9 L1621.1,372.2 L1623.1,373.5 L1625.1,374.8 L1627.1,376.2 L1629.1,377.5 L1631.1,378.9 L1633.1,380.2 L1635.1,381.5 L1637.1,382.8 L1639.1,384.0 L1641.1,385.3 L1643.1,386.5 L1645.1,387.8 L1647.1,389.1 L1649.2,390.4 L1651.2,391.7 L1653.2,393.1 L1655.2,394.5 L1657.2,396.0 L1659.2,397.5 L1661.2,399.0 L1663.2,400.6 L1665.2,402.2 L1667.2,403.7 L1669.2,405.4 L1671.2,407.0 L1673.2,408.6 L1675.2,410.1 L1677.2,411.7 L1679.2,413.3 L1681.2,414.8 L1683.2,416.4 L1685.2,417.9 L1687.2,419.4 L1689.3,420.9 L1691.3,422.4 L1693.3,423.9 L1695.3,425.4 L1697.3,426.8 L1699.3,428.3 L1701.3,429.7 L1703.3,431.1 L1705.3,432.5 L1707.3,433.9 L1709.3,435.2 L1711.3,436.6 L1713.3,437.9 L1715.3,439.2 L1717.3,440.5 L1719.3,441.8 L1721.3,443.1 L1723.3,444.4 L1725.3,445.7 L1727.3,447.0 L1729.4,448.3 L1731.4,449.5 L1733.4,450.8 L1735.4,452.1 L1737.4,453.4 L1739.4,454.6 L1741.4,455.9 L1743.4,457.2 L1745.4,458.4 L1747.4,459.7 L1749.4,461.0" fill="none" stroke="#0000ff" stroke-width="2.7" stroke-linejoin="round" stroke-dasharray="23.4 14.1"/>
</g>
<rect x="996.5" y="168.9" width="315.5999999999999" height="284.29999999999995" fill="#fff" stroke="#262626" stroke-width="1.4"/>
<path d="M1005.7,186.5H1075.8" stroke="#00ff00" stroke-width="2.7" fill="none"/>
<text x="1082.9" y="194.8" class="l">O(1/k)</text>
<path d="M1005.7,216.8H1075.8" stroke="#00ff00" stroke-width="2.7" fill="none" stroke-dasharray="23.4 14.1"/>
<text x="1083.8000000000002" y="228.4" class="l">O(1/k<tspan dy="-9.4" dx="0.2" class="ls">2</tspan><tspan dy="9.4" dx="1.6">)</tspan></text>
<path d="M1005.7,246.3H1075.8" stroke="#000000" stroke-width="2.7" fill="none"/>
<text x="1082.9" y="254.6" class="l">Condat-Vu</text>
<path d="M1005.7,273.5H1075.8" stroke="#000000" stroke-width="2.7" fill="none" stroke-dasharray="23.4 14.1"/>
<text x="1082.9" y="281.8" class="l">accelerated Condat-Vu</text>
<path d="M1005.7,300.5H1075.8" stroke="#ff0000" stroke-width="2.7" fill="none"/>
<text x="1082.9" y="308.8" class="l">PDDY</text>
<path d="M1005.7,327.5H1075.8" stroke="#ff00ff" stroke-width="2.7" fill="none"/>
<text x="1082.9" y="335.8" class="l">PDDY xR</text>
<path d="M1005.7,354.4H1075.8" stroke="#ff0000" stroke-width="2.7" fill="none" stroke-dasharray="23.4 14.1"/>
<text x="1082.9" y="362.7" class="l">accelerated PDDY</text>
<path d="M1005.7,381.4H1075.8" stroke="#ff00ff" stroke-width="2.7" fill="none" stroke-dasharray="23.4 14.1"/>
<text x="1082.9" y="389.7" class="l">accelerated PDDY xR</text>
<path d="M1005.7,408.4H1075.8" stroke="#0000ff" stroke-width="2.7" fill="none"/>
<text x="1082.9" y="416.7" class="l">PD3O</text>
<path d="M1005.7,435.4H1075.8" stroke="#0000ff" stroke-width="2.7" fill="none" stroke-dasharray="23.4 14.1"/>
<text x="1082.9" y="443.7" class="l">accelerated PD3O</text>
<text x="958.0" y="509.8" class="t">10<tspan dy="-11.5" dx="0.6" class="e">0</tspan></text>
<text x="1130.4" y="509.8" class="t">10<tspan dy="-11.5" dx="0.6" class="e">1</tspan></text>
<text x="1302.8" y="509.8" class="t">10<tspan dy="-11.5" dx="0.6" class="e">2</tspan></text>
<text x="1475.2" y="509.8" class="t">10<tspan dy="-11.5" dx="0.6" class="e">3</tspan></text>
<text x="1647.6" y="509.8" class="t">10<tspan dy="-11.5" dx="0.6" class="e">4</tspan></text>
<text x="928.1" y="105.6" class="t">10<tspan dy="-11" dx="1.4" class="e">5</tspan></text>
<text x="928.1" y="261.8" class="t">10<tspan dy="-11" dx="1.4" class="e">0</tspan></text>
<text x="921.8" y="418.0" class="t">10<tspan dy="-11" dx="1.4" class="e">-5</tspan></text>
<text x="1.0" y="33.6" class="p">A</text>
<text x="875.1" y="30.1" class="p">B</text>
<text class="gr" transform="matrix(0.3809 0 0 0.4520 175.09 584.10)">Ψ</text>
<text class="gr" transform="matrix(0.3854 0 0 0.4864 208.21 585.04)">(</text>
<text class="gi" transform="matrix(0.4524 0 0 0.3725 223.85 584.70)">x</text>
<text class="gi" transform="matrix(0.3235 0 0 0.3200 247.87 568.60)">k</text>
<text class="gr" transform="matrix(0.4048 0 0 0.4864 267.10 585.04)">)</text>
<text class="gr" transform="matrix(0.5631 0 0 0.3614 293.20 585.30)">−</text>
<text class="gr" transform="matrix(0.3809 0 0 0.4520 337.99 584.10)">Ψ</text>
<text class="gr" transform="matrix(0.3815 0 0 0.4864 370.63 585.04)">(</text>
<text class="gi" transform="matrix(0.4524 0 0 0.3725 386.45 584.70)">x</text>
<text class="gd" transform="matrix(0.3536 0 0 0.3440 406.17 570.41)">⋆</text>
<text class="gr" transform="matrix(0.3854 0 0 0.4864 428.36 585.04)">)</text>
<text x="455.6" y="584.4" class="x">w.r.t. # iterations</text>
<text class="gd" transform="matrix(0.4153 0 0 0.5190 1153.88 587.97)">‖</text>
<text class="gi" transform="matrix(0.4524 0 0 0.3725 1174.65 584.70)">x</text>
<text class="gi" transform="matrix(0.3468 0 0 0.3200 1198.00 568.60)">k</text>
<text class="gr" transform="matrix(0.5695 0 0 0.3614 1227.46 585.30)">−</text>
<text class="gi" transform="matrix(0.4524 0 0 0.3725 1271.65 584.70)">x</text>
<text class="gd" transform="matrix(0.3514 0 0 0.3440 1291.19 570.41)">⋆</text>
<text class="gd" transform="matrix(0.4234 0 0 0.5190 1314.41 587.97)">‖</text>
<text class="gr" transform="matrix(0.3417 0 0 0.3202 1333.80 568.10)">2</text>
<text x="1364.6" y="584.4" class="x">w.r.t. # iterations</text>
</svg>
</body></html>
